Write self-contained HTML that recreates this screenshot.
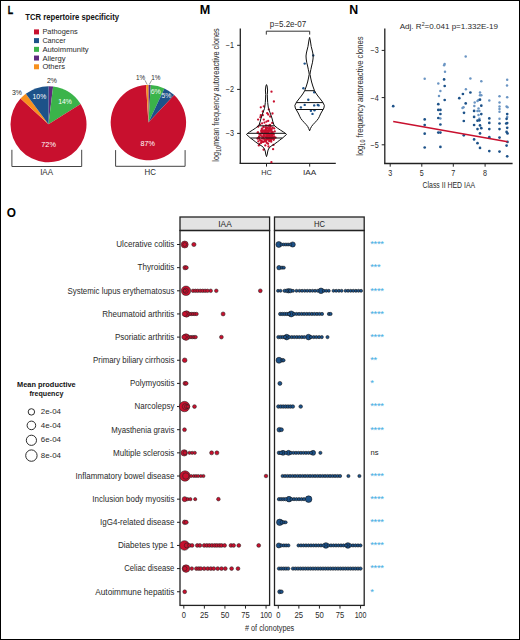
<!DOCTYPE html>
<html><head><meta charset="utf-8"><style>
html,body{margin:0;padding:0;background:#fff;}
body{width:520px;height:640px;overflow:hidden;}
.frame{position:absolute;left:0;top:0;width:518px;height:638px;border:1px solid #000;}
svg{position:absolute;left:0;top:0;}
text{font-family:"Liberation Sans",sans-serif;}
</style></head><body>
<div class="frame"></div>
<svg width="520" height="640" viewBox="0 0 520 640" font-family="Liberation Sans, sans-serif">
<text x="7.70" y="13.60" font-size="11.8" text-anchor="start" fill="#000" font-weight="bold" textLength="5.4" lengthAdjust="spacingAndGlyphs" stroke="#000" stroke-width="0.35">L</text>
<text x="25.30" y="19.90" font-size="8.5" text-anchor="start" fill="#111" font-weight="bold" textLength="93.8" lengthAdjust="spacingAndGlyphs" >TCR repertoire specificity</text>
<rect x="34" y="29.40" width="5" height="5" fill="#c8102e"/>
<text x="42.40" y="34.40" font-size="7.6" text-anchor="start" fill="#2a2a2a" textLength="35.3" lengthAdjust="spacingAndGlyphs" >Pathogens</text>
<rect x="34" y="38.12" width="5" height="5" fill="#1d5289"/>
<text x="42.40" y="43.12" font-size="7.6" text-anchor="start" fill="#2a2a2a" textLength="23.2" lengthAdjust="spacingAndGlyphs" >Cancer</text>
<rect x="34" y="46.84" width="5" height="5" fill="#3bb44a"/>
<text x="42.40" y="51.84" font-size="7.6" text-anchor="start" fill="#2a2a2a" textLength="46.3" lengthAdjust="spacingAndGlyphs" >Autoimmunity</text>
<rect x="34" y="55.56" width="5" height="5" fill="#5e2a7e"/>
<text x="42.40" y="60.56" font-size="7.6" text-anchor="start" fill="#2a2a2a" textLength="23.2" lengthAdjust="spacingAndGlyphs" >Allergy</text>
<rect x="34" y="64.28" width="5" height="5" fill="#f7901e"/>
<text x="42.40" y="69.28" font-size="7.6" text-anchor="start" fill="#2a2a2a" textLength="22.7" lengthAdjust="spacingAndGlyphs" >Others</text>
<path d="M48.50,124.30 L48.50,86.30 A38,38 0 0 1 53.13,86.58 Z" fill="#5e2a7e"/>
<path d="M48.50,124.30 L53.13,86.58 A38,38 0 0 1 80.66,104.05 Z" fill="#3bb44a"/>
<path d="M48.50,124.30 L80.66,104.05 A38,38 0 1 1 20.53,98.58 Z" fill="#c8102e"/>
<path d="M48.50,124.30 L20.53,98.58 A38,38 0 0 1 25.79,93.83 Z" fill="#f7901e"/>
<path d="M48.50,124.30 L25.79,93.83 A38,38 0 0 1 48.50,86.30 Z" fill="#1d5289"/>
<path d="M148.40,122.60 L148.40,84.90 A37.7,37.7 0 0 1 150.77,84.97 Z" fill="#5e2a7e"/>
<path d="M148.40,122.60 L150.77,84.97 A37.7,37.7 0 0 1 164.45,88.49 Z" fill="#3bb44a"/>
<path d="M148.40,122.60 L164.45,88.49 A37.7,37.7 0 0 1 174.21,95.12 Z" fill="#1d5289"/>
<path d="M148.40,122.60 L174.21,95.12 A37.7,37.7 0 1 1 146.03,84.97 Z" fill="#c8102e"/>
<path d="M148.40,122.60 L146.03,84.97 A37.7,37.7 0 0 1 148.40,84.90 Z" fill="#f7901e"/>
<text x="51.90" y="83.30" font-size="8.0" text-anchor="middle" fill="#2a2a2a" textLength="10.0" lengthAdjust="spacingAndGlyphs" >2%</text>
<text x="16.90" y="95.30" font-size="8.0" text-anchor="middle" fill="#2a2a2a" textLength="10.0" lengthAdjust="spacingAndGlyphs" >3%</text>
<text x="39.40" y="98.80" font-size="8.0" text-anchor="middle" fill="#fff" textLength="13.6" lengthAdjust="spacingAndGlyphs" >10%</text>
<text x="65.10" y="103.50" font-size="8.0" text-anchor="middle" fill="#fff" textLength="13.6" lengthAdjust="spacingAndGlyphs" >14%</text>
<text x="48.60" y="146.50" font-size="8.0" text-anchor="middle" fill="#fff" textLength="14.6" lengthAdjust="spacingAndGlyphs" >72%</text>
<text x="140.50" y="79.60" font-size="8.0" text-anchor="middle" fill="#2a2a2a" textLength="9.2" lengthAdjust="spacingAndGlyphs" >1%</text>
<text x="155.90" y="79.60" font-size="8.0" text-anchor="middle" fill="#2a2a2a" textLength="9.2" lengthAdjust="spacingAndGlyphs" >1%</text>
<line x1="145.00" y1="80.30" x2="147.20" y2="84.60" stroke="#555" stroke-width="0.6"/>
<line x1="151.60" y1="80.30" x2="149.20" y2="84.60" stroke="#555" stroke-width="0.6"/>
<text x="155.80" y="93.60" font-size="8.0" text-anchor="middle" fill="#f4f4f4" textLength="10.2" lengthAdjust="spacingAndGlyphs" >6%</text>
<text x="166.50" y="97.90" font-size="8.0" text-anchor="middle" fill="#f0f0f0" textLength="9.8" lengthAdjust="spacingAndGlyphs" >5%</text>
<text x="147.60" y="146.00" font-size="8.0" text-anchor="middle" fill="#fff" textLength="14.4" lengthAdjust="spacingAndGlyphs" >87%</text>
<path d="M11.9,149.8 V166.5 H81.7 V149.8" fill="none" stroke="#444" stroke-width="1"/>
<path d="M115.6,150.1 V166.3 H185.1 V150.1" fill="none" stroke="#444" stroke-width="1"/>
<text x="46.60" y="175.20" font-size="8.2" text-anchor="middle" fill="#2a2a2a" textLength="12.9" lengthAdjust="spacingAndGlyphs" >IAA</text>
<text x="150.20" y="175.10" font-size="8.2" text-anchor="middle" fill="#2a2a2a" textLength="11.4" lengthAdjust="spacingAndGlyphs" >HC</text>
<text x="199.80" y="13.80" font-size="11.9" text-anchor="start" fill="#000" font-weight="bold" textLength="10.5" lengthAdjust="spacingAndGlyphs" >M</text>
<line x1="240.30" y1="28.60" x2="240.30" y2="163.40" stroke="#222" stroke-width="1.3"/>
<line x1="239.60" y1="163.40" x2="335.80" y2="163.40" stroke="#222" stroke-width="1.3"/>
<line x1="237.10" y1="45.30" x2="240.30" y2="45.30" stroke="#222" stroke-width="1"/>
<text x="234.00" y="48.20" font-size="8.4" text-anchor="end" fill="#2a2a2a" textLength="8.2" lengthAdjust="spacingAndGlyphs" >−1</text>
<line x1="237.10" y1="89.40" x2="240.30" y2="89.40" stroke="#222" stroke-width="1"/>
<text x="234.00" y="92.30" font-size="8.4" text-anchor="end" fill="#2a2a2a" textLength="8.2" lengthAdjust="spacingAndGlyphs" >−2</text>
<line x1="237.10" y1="133.40" x2="240.30" y2="133.40" stroke="#222" stroke-width="1"/>
<text x="234.00" y="136.30" font-size="8.4" text-anchor="end" fill="#2a2a2a" textLength="8.2" lengthAdjust="spacingAndGlyphs" >−3</text>
<line x1="266.50" y1="163.40" x2="266.50" y2="166.60" stroke="#222" stroke-width="1"/>
<text x="266.50" y="175.20" font-size="8.1" text-anchor="middle" fill="#2a2a2a" textLength="10.6" lengthAdjust="spacingAndGlyphs" >HC</text>
<line x1="309.70" y1="163.40" x2="309.70" y2="166.60" stroke="#222" stroke-width="1"/>
<text x="309.70" y="175.20" font-size="8.1" text-anchor="middle" fill="#2a2a2a" textLength="13.3" lengthAdjust="spacingAndGlyphs" >IAA</text>
<text transform="translate(219.4,161.7) rotate(-90)" font-size="8.8" fill="#2a2a2a" textLength="133.5" lengthAdjust="spacingAndGlyphs">log<tspan font-size="6.3" dy="1.9">10</tspan><tspan dy="-1.9">mean frequency autoreactive clones</tspan></text>
<path d="M266.3,34.6 V31.2 H309.7 V34.6" fill="none" stroke="#333" stroke-width="1"/>
<text x="288.00" y="26.80" font-size="8.8" text-anchor="middle" fill="#2a2a2a" textLength="36.3" lengthAdjust="spacingAndGlyphs" >p=5.2e-07</text>
<circle cx="268.95" cy="133.32" r="1.15" fill="#c8102e" stroke="none" stroke-width="0.5"/>
<circle cx="264.99" cy="133.46" r="1.15" fill="#c8102e" stroke="none" stroke-width="0.5"/>
<circle cx="265.48" cy="130.22" r="1.15" fill="#c8102e" stroke="none" stroke-width="0.5"/>
<circle cx="268.54" cy="139.61" r="1.15" fill="#c8102e" stroke="none" stroke-width="0.5"/>
<circle cx="267.69" cy="139.27" r="1.15" fill="#c8102e" stroke="none" stroke-width="0.5"/>
<circle cx="267.39" cy="136.32" r="1.15" fill="#c8102e" stroke="none" stroke-width="0.5"/>
<circle cx="270.61" cy="126.84" r="1.15" fill="#c8102e" stroke="none" stroke-width="0.5"/>
<circle cx="268.89" cy="136.83" r="1.15" fill="#c8102e" stroke="none" stroke-width="0.5"/>
<circle cx="258.13" cy="126.72" r="1.15" fill="#c8102e" stroke="none" stroke-width="0.5"/>
<circle cx="264.25" cy="130.41" r="1.15" fill="#c8102e" stroke="none" stroke-width="0.5"/>
<circle cx="266.28" cy="135.91" r="1.15" fill="#c8102e" stroke="none" stroke-width="0.5"/>
<circle cx="263.42" cy="136.90" r="1.15" fill="#c8102e" stroke="none" stroke-width="0.5"/>
<circle cx="268.39" cy="135.92" r="1.15" fill="#c8102e" stroke="none" stroke-width="0.5"/>
<circle cx="274.74" cy="131.46" r="1.15" fill="#c8102e" stroke="none" stroke-width="0.5"/>
<circle cx="272.25" cy="137.06" r="1.15" fill="#c8102e" stroke="none" stroke-width="0.5"/>
<circle cx="262.95" cy="131.65" r="1.15" fill="#c8102e" stroke="none" stroke-width="0.5"/>
<circle cx="265.99" cy="132.92" r="1.15" fill="#c8102e" stroke="none" stroke-width="0.5"/>
<circle cx="267.69" cy="137.41" r="1.15" fill="#c8102e" stroke="none" stroke-width="0.5"/>
<circle cx="261.91" cy="132.44" r="1.15" fill="#c8102e" stroke="none" stroke-width="0.5"/>
<circle cx="272.36" cy="132.11" r="1.15" fill="#c8102e" stroke="none" stroke-width="0.5"/>
<circle cx="267.67" cy="130.78" r="1.15" fill="#c8102e" stroke="none" stroke-width="0.5"/>
<circle cx="259.35" cy="136.46" r="1.15" fill="#c8102e" stroke="none" stroke-width="0.5"/>
<circle cx="272.77" cy="134.72" r="1.15" fill="#c8102e" stroke="none" stroke-width="0.5"/>
<circle cx="265.99" cy="133.02" r="1.15" fill="#c8102e" stroke="none" stroke-width="0.5"/>
<circle cx="268.89" cy="130.74" r="1.15" fill="#c8102e" stroke="none" stroke-width="0.5"/>
<circle cx="259.47" cy="134.21" r="1.15" fill="#c8102e" stroke="none" stroke-width="0.5"/>
<circle cx="269.71" cy="138.31" r="1.15" fill="#c8102e" stroke="none" stroke-width="0.5"/>
<circle cx="273.41" cy="138.85" r="1.15" fill="#c8102e" stroke="none" stroke-width="0.5"/>
<circle cx="267.07" cy="136.17" r="1.15" fill="#c8102e" stroke="none" stroke-width="0.5"/>
<circle cx="269.45" cy="128.52" r="1.15" fill="#c8102e" stroke="none" stroke-width="0.5"/>
<circle cx="264.33" cy="131.69" r="1.15" fill="#c8102e" stroke="none" stroke-width="0.5"/>
<circle cx="261.86" cy="128.68" r="1.15" fill="#c8102e" stroke="none" stroke-width="0.5"/>
<circle cx="272.69" cy="132.06" r="1.15" fill="#c8102e" stroke="none" stroke-width="0.5"/>
<circle cx="267.65" cy="127.79" r="1.15" fill="#c8102e" stroke="none" stroke-width="0.5"/>
<circle cx="269.28" cy="141.14" r="1.15" fill="#c8102e" stroke="none" stroke-width="0.5"/>
<circle cx="268.22" cy="125.76" r="1.15" fill="#c8102e" stroke="none" stroke-width="0.5"/>
<circle cx="261.13" cy="131.11" r="1.15" fill="#c8102e" stroke="none" stroke-width="0.5"/>
<circle cx="271.79" cy="139.00" r="1.15" fill="#c8102e" stroke="none" stroke-width="0.5"/>
<circle cx="267.68" cy="135.22" r="1.15" fill="#c8102e" stroke="none" stroke-width="0.5"/>
<circle cx="274.15" cy="136.50" r="1.15" fill="#c8102e" stroke="none" stroke-width="0.5"/>
<circle cx="268.99" cy="137.35" r="1.15" fill="#c8102e" stroke="none" stroke-width="0.5"/>
<circle cx="258.97" cy="137.02" r="1.15" fill="#c8102e" stroke="none" stroke-width="0.5"/>
<circle cx="271.08" cy="140.40" r="1.15" fill="#c8102e" stroke="none" stroke-width="0.5"/>
<circle cx="263.46" cy="136.94" r="1.15" fill="#c8102e" stroke="none" stroke-width="0.5"/>
<circle cx="257.81" cy="138.37" r="1.15" fill="#c8102e" stroke="none" stroke-width="0.5"/>
<circle cx="271.39" cy="133.65" r="1.15" fill="#c8102e" stroke="none" stroke-width="0.5"/>
<circle cx="274.23" cy="128.47" r="1.15" fill="#c8102e" stroke="none" stroke-width="0.5"/>
<circle cx="265.78" cy="137.04" r="1.15" fill="#c8102e" stroke="none" stroke-width="0.5"/>
<circle cx="269.62" cy="135.99" r="1.15" fill="#c8102e" stroke="none" stroke-width="0.5"/>
<circle cx="272.00" cy="135.05" r="1.15" fill="#c8102e" stroke="none" stroke-width="0.5"/>
<circle cx="264.51" cy="131.46" r="1.15" fill="#c8102e" stroke="none" stroke-width="0.5"/>
<circle cx="266.63" cy="139.29" r="1.15" fill="#c8102e" stroke="none" stroke-width="0.5"/>
<circle cx="271.04" cy="130.45" r="1.15" fill="#c8102e" stroke="none" stroke-width="0.5"/>
<circle cx="264.36" cy="141.24" r="1.15" fill="#c8102e" stroke="none" stroke-width="0.5"/>
<circle cx="265.85" cy="128.15" r="1.15" fill="#c8102e" stroke="none" stroke-width="0.5"/>
<circle cx="265.07" cy="133.81" r="1.15" fill="#c8102e" stroke="none" stroke-width="0.5"/>
<circle cx="261.57" cy="140.96" r="1.15" fill="#c8102e" stroke="none" stroke-width="0.5"/>
<circle cx="260.41" cy="140.30" r="1.15" fill="#c8102e" stroke="none" stroke-width="0.5"/>
<circle cx="269.53" cy="130.88" r="1.15" fill="#c8102e" stroke="none" stroke-width="0.5"/>
<circle cx="270.62" cy="139.69" r="1.15" fill="#c8102e" stroke="none" stroke-width="0.5"/>
<circle cx="267.18" cy="136.09" r="1.15" fill="#c8102e" stroke="none" stroke-width="0.5"/>
<circle cx="269.26" cy="135.20" r="1.15" fill="#c8102e" stroke="none" stroke-width="0.5"/>
<circle cx="267.83" cy="133.69" r="1.15" fill="#c8102e" stroke="none" stroke-width="0.5"/>
<circle cx="266.50" cy="137.13" r="1.15" fill="#c8102e" stroke="none" stroke-width="0.5"/>
<circle cx="269.22" cy="138.01" r="1.15" fill="#c8102e" stroke="none" stroke-width="0.5"/>
<circle cx="268.06" cy="143.75" r="1.15" fill="#c8102e" stroke="none" stroke-width="0.5"/>
<circle cx="264.71" cy="132.53" r="1.15" fill="#c8102e" stroke="none" stroke-width="0.5"/>
<circle cx="270.93" cy="134.44" r="1.15" fill="#c8102e" stroke="none" stroke-width="0.5"/>
<circle cx="268.35" cy="132.95" r="1.15" fill="#c8102e" stroke="none" stroke-width="0.5"/>
<circle cx="261.11" cy="142.95" r="1.15" fill="#c8102e" stroke="none" stroke-width="0.5"/>
<circle cx="268.41" cy="135.62" r="1.15" fill="#c8102e" stroke="none" stroke-width="0.5"/>
<circle cx="264.43" cy="135.60" r="1.15" fill="#c8102e" stroke="none" stroke-width="0.5"/>
<circle cx="267.85" cy="137.51" r="1.15" fill="#c8102e" stroke="none" stroke-width="0.5"/>
<circle cx="268.20" cy="132.10" r="1.15" fill="#c8102e" stroke="none" stroke-width="0.5"/>
<circle cx="266.02" cy="131.95" r="1.15" fill="#c8102e" stroke="none" stroke-width="0.5"/>
<circle cx="266.20" cy="133.46" r="1.15" fill="#c8102e" stroke="none" stroke-width="0.5"/>
<circle cx="271.34" cy="132.26" r="1.15" fill="#c8102e" stroke="none" stroke-width="0.5"/>
<circle cx="266.18" cy="129.12" r="1.15" fill="#c8102e" stroke="none" stroke-width="0.5"/>
<circle cx="270.61" cy="138.89" r="1.15" fill="#c8102e" stroke="none" stroke-width="0.5"/>
<circle cx="258.33" cy="141.36" r="1.15" fill="#c8102e" stroke="none" stroke-width="0.5"/>
<circle cx="264.86" cy="132.87" r="1.15" fill="#c8102e" stroke="none" stroke-width="0.5"/>
<circle cx="271.74" cy="137.37" r="1.15" fill="#c8102e" stroke="none" stroke-width="0.5"/>
<circle cx="259.55" cy="139.51" r="1.15" fill="#c8102e" stroke="none" stroke-width="0.5"/>
<circle cx="259.34" cy="137.64" r="1.15" fill="#c8102e" stroke="none" stroke-width="0.5"/>
<circle cx="272.23" cy="135.31" r="1.15" fill="#c8102e" stroke="none" stroke-width="0.5"/>
<circle cx="267.42" cy="133.81" r="1.15" fill="#c8102e" stroke="none" stroke-width="0.5"/>
<circle cx="267.18" cy="138.17" r="1.15" fill="#c8102e" stroke="none" stroke-width="0.5"/>
<circle cx="273.86" cy="134.09" r="1.15" fill="#c8102e" stroke="none" stroke-width="0.5"/>
<circle cx="265.09" cy="139.32" r="1.15" fill="#c8102e" stroke="none" stroke-width="0.5"/>
<circle cx="270.89" cy="129.22" r="1.15" fill="#c8102e" stroke="none" stroke-width="0.5"/>
<circle cx="267.14" cy="133.28" r="1.15" fill="#c8102e" stroke="none" stroke-width="0.5"/>
<circle cx="267.57" cy="137.74" r="1.15" fill="#c8102e" stroke="none" stroke-width="0.5"/>
<circle cx="259.17" cy="137.44" r="1.15" fill="#c8102e" stroke="none" stroke-width="0.5"/>
<circle cx="269.45" cy="127.56" r="1.15" fill="#c8102e" stroke="none" stroke-width="0.5"/>
<circle cx="261.57" cy="130.07" r="1.15" fill="#c8102e" stroke="none" stroke-width="0.5"/>
<circle cx="272.58" cy="127.74" r="1.15" fill="#c8102e" stroke="none" stroke-width="0.5"/>
<circle cx="273.57" cy="137.93" r="1.15" fill="#c8102e" stroke="none" stroke-width="0.5"/>
<circle cx="266.50" cy="130.19" r="1.15" fill="#c8102e" stroke="none" stroke-width="0.5"/>
<circle cx="270.18" cy="129.25" r="1.15" fill="#c8102e" stroke="none" stroke-width="0.5"/>
<circle cx="262.23" cy="141.81" r="1.15" fill="#c8102e" stroke="none" stroke-width="0.5"/>
<circle cx="271.24" cy="141.68" r="1.15" fill="#c8102e" stroke="none" stroke-width="0.5"/>
<circle cx="273.25" cy="133.68" r="1.15" fill="#c8102e" stroke="none" stroke-width="0.5"/>
<circle cx="263.61" cy="134.06" r="1.15" fill="#c8102e" stroke="none" stroke-width="0.5"/>
<circle cx="268.47" cy="136.34" r="1.15" fill="#c8102e" stroke="none" stroke-width="0.5"/>
<circle cx="261.60" cy="141.39" r="1.15" fill="#c8102e" stroke="none" stroke-width="0.5"/>
<circle cx="273.64" cy="139.73" r="1.15" fill="#c8102e" stroke="none" stroke-width="0.5"/>
<circle cx="265.63" cy="141.18" r="1.15" fill="#c8102e" stroke="none" stroke-width="0.5"/>
<circle cx="271.39" cy="131.08" r="1.15" fill="#c8102e" stroke="none" stroke-width="0.5"/>
<circle cx="267.10" cy="135.03" r="1.15" fill="#c8102e" stroke="none" stroke-width="0.5"/>
<circle cx="265.24" cy="141.05" r="1.15" fill="#c8102e" stroke="none" stroke-width="0.5"/>
<circle cx="257.60" cy="132.72" r="1.15" fill="#c8102e" stroke="none" stroke-width="0.5"/>
<circle cx="268.02" cy="138.27" r="1.15" fill="#c8102e" stroke="none" stroke-width="0.5"/>
<circle cx="266.45" cy="131.69" r="1.15" fill="#c8102e" stroke="none" stroke-width="0.5"/>
<circle cx="266.88" cy="138.33" r="1.15" fill="#c8102e" stroke="none" stroke-width="0.5"/>
<circle cx="266.21" cy="140.60" r="1.15" fill="#c8102e" stroke="none" stroke-width="0.5"/>
<circle cx="273.66" cy="139.29" r="1.15" fill="#c8102e" stroke="none" stroke-width="0.5"/>
<circle cx="263.28" cy="141.91" r="1.15" fill="#c8102e" stroke="none" stroke-width="0.5"/>
<circle cx="257.50" cy="138.55" r="1.15" fill="#c8102e" stroke="none" stroke-width="0.5"/>
<circle cx="271.63" cy="129.52" r="1.15" fill="#c8102e" stroke="none" stroke-width="0.5"/>
<circle cx="266.44" cy="128.83" r="1.15" fill="#c8102e" stroke="none" stroke-width="0.5"/>
<circle cx="266.36" cy="133.62" r="1.15" fill="#c8102e" stroke="none" stroke-width="0.5"/>
<circle cx="267.62" cy="131.78" r="1.15" fill="#c8102e" stroke="none" stroke-width="0.5"/>
<circle cx="266.71" cy="142.74" r="1.15" fill="#c8102e" stroke="none" stroke-width="0.5"/>
<circle cx="271.30" cy="136.94" r="1.15" fill="#c8102e" stroke="none" stroke-width="0.5"/>
<circle cx="260.45" cy="133.59" r="1.15" fill="#c8102e" stroke="none" stroke-width="0.5"/>
<circle cx="271.65" cy="131.95" r="1.15" fill="#c8102e" stroke="none" stroke-width="0.5"/>
<circle cx="263.63" cy="126.93" r="1.15" fill="#c8102e" stroke="none" stroke-width="0.5"/>
<circle cx="270.31" cy="139.13" r="1.15" fill="#c8102e" stroke="none" stroke-width="0.5"/>
<circle cx="270.37" cy="134.54" r="1.15" fill="#c8102e" stroke="none" stroke-width="0.5"/>
<circle cx="260.84" cy="135.26" r="1.15" fill="#c8102e" stroke="none" stroke-width="0.5"/>
<circle cx="263.43" cy="127.31" r="1.15" fill="#c8102e" stroke="none" stroke-width="0.5"/>
<circle cx="263.79" cy="138.74" r="1.15" fill="#c8102e" stroke="none" stroke-width="0.5"/>
<circle cx="262.80" cy="130.35" r="1.15" fill="#c8102e" stroke="none" stroke-width="0.5"/>
<circle cx="265.94" cy="127.45" r="1.15" fill="#c8102e" stroke="none" stroke-width="0.5"/>
<circle cx="268.25" cy="129.07" r="1.15" fill="#c8102e" stroke="none" stroke-width="0.5"/>
<circle cx="263.42" cy="136.01" r="1.15" fill="#c8102e" stroke="none" stroke-width="0.5"/>
<circle cx="269.98" cy="125.57" r="1.15" fill="#c8102e" stroke="none" stroke-width="0.5"/>
<circle cx="262.30" cy="133.23" r="1.15" fill="#c8102e" stroke="none" stroke-width="0.5"/>
<circle cx="264.30" cy="135.84" r="1.15" fill="#c8102e" stroke="none" stroke-width="0.5"/>
<circle cx="270.09" cy="138.09" r="1.15" fill="#c8102e" stroke="none" stroke-width="0.5"/>
<circle cx="268.07" cy="137.56" r="1.15" fill="#c8102e" stroke="none" stroke-width="0.5"/>
<circle cx="269.67" cy="140.64" r="1.15" fill="#c8102e" stroke="none" stroke-width="0.5"/>
<circle cx="270.80" cy="136.58" r="1.15" fill="#c8102e" stroke="none" stroke-width="0.5"/>
<circle cx="265.07" cy="140.52" r="1.15" fill="#c8102e" stroke="none" stroke-width="0.5"/>
<circle cx="258.06" cy="132.34" r="1.15" fill="#c8102e" stroke="none" stroke-width="0.5"/>
<circle cx="262.05" cy="136.66" r="1.15" fill="#c8102e" stroke="none" stroke-width="0.5"/>
<circle cx="275.55" cy="137.67" r="1.15" fill="#c8102e" stroke="none" stroke-width="0.5"/>
<circle cx="269.19" cy="133.95" r="1.15" fill="#c8102e" stroke="none" stroke-width="0.5"/>
<circle cx="262.15" cy="138.65" r="1.15" fill="#c8102e" stroke="none" stroke-width="0.5"/>
<circle cx="267.91" cy="134.09" r="1.15" fill="#c8102e" stroke="none" stroke-width="0.5"/>
<circle cx="271.50" cy="91.70" r="1.15" fill="#c8102e" stroke="none" stroke-width="0.5"/>
<circle cx="273.90" cy="101.50" r="1.15" fill="#c8102e" stroke="none" stroke-width="0.5"/>
<circle cx="260.80" cy="107.30" r="1.15" fill="#c8102e" stroke="none" stroke-width="0.5"/>
<circle cx="263.80" cy="106.30" r="1.15" fill="#c8102e" stroke="none" stroke-width="0.5"/>
<circle cx="268.80" cy="109.30" r="1.15" fill="#c8102e" stroke="none" stroke-width="0.5"/>
<circle cx="262.80" cy="111.50" r="1.15" fill="#c8102e" stroke="none" stroke-width="0.5"/>
<circle cx="272.50" cy="113.50" r="1.15" fill="#c8102e" stroke="none" stroke-width="0.5"/>
<circle cx="267.20" cy="113.20" r="1.15" fill="#c8102e" stroke="none" stroke-width="0.5"/>
<circle cx="268.20" cy="114.50" r="1.15" fill="#c8102e" stroke="none" stroke-width="0.5"/>
<circle cx="270.20" cy="116.50" r="1.15" fill="#c8102e" stroke="none" stroke-width="0.5"/>
<circle cx="260.80" cy="115.20" r="1.15" fill="#c8102e" stroke="none" stroke-width="0.5"/>
<circle cx="260.40" cy="117.20" r="1.15" fill="#c8102e" stroke="none" stroke-width="0.5"/>
<circle cx="262.80" cy="115.20" r="1.15" fill="#c8102e" stroke="none" stroke-width="0.5"/>
<circle cx="258.10" cy="119.60" r="1.15" fill="#c8102e" stroke="none" stroke-width="0.5"/>
<circle cx="263.80" cy="119.60" r="1.15" fill="#c8102e" stroke="none" stroke-width="0.5"/>
<circle cx="266.50" cy="121.60" r="1.15" fill="#c8102e" stroke="none" stroke-width="0.5"/>
<circle cx="268.20" cy="120.90" r="1.15" fill="#c8102e" stroke="none" stroke-width="0.5"/>
<circle cx="262.10" cy="123.30" r="1.15" fill="#c8102e" stroke="none" stroke-width="0.5"/>
<circle cx="264.50" cy="122.60" r="1.15" fill="#c8102e" stroke="none" stroke-width="0.5"/>
<circle cx="272.20" cy="122.90" r="1.15" fill="#c8102e" stroke="none" stroke-width="0.5"/>
<circle cx="260.10" cy="124.60" r="1.15" fill="#c8102e" stroke="none" stroke-width="0.5"/>
<circle cx="258.80" cy="145.40" r="1.15" fill="#c8102e" stroke="none" stroke-width="0.5"/>
<circle cx="265.30" cy="145.40" r="1.15" fill="#c8102e" stroke="none" stroke-width="0.5"/>
<circle cx="273.50" cy="144.90" r="1.15" fill="#c8102e" stroke="none" stroke-width="0.5"/>
<circle cx="263.60" cy="149.70" r="1.15" fill="#c8102e" stroke="none" stroke-width="0.5"/>
<circle cx="273.10" cy="149.20" r="1.15" fill="#c8102e" stroke="none" stroke-width="0.5"/>
<circle cx="271.40" cy="162.20" r="1.15" fill="#c8102e" stroke="none" stroke-width="0.5"/>
<circle cx="259.50" cy="143.80" r="1.15" fill="#c8102e" stroke="none" stroke-width="0.5"/>
<circle cx="268.50" cy="146.50" r="1.15" fill="#c8102e" stroke="none" stroke-width="0.5"/>
<circle cx="266.00" cy="125.50" r="1.15" fill="#c8102e" stroke="none" stroke-width="0.5"/>
<circle cx="270.00" cy="124.80" r="1.15" fill="#c8102e" stroke="none" stroke-width="0.5"/>
<path d="M266.50,84.60 L267.10,86.00 L267.60,90.00 L267.30,94.50 L267.40,98.00 L267.70,102.60 L268.10,106.00 L268.50,108.50 L269.80,112.00 L271.00,115.20 L272.20,119.00 L272.90,121.90 L274.10,125.30 L277.30,128.00 L280.30,130.00 L283.50,132.00 L286.50,134.30 L284.90,136.00 L282.50,138.00 L279.90,140.00 L277.30,142.00 L274.50,144.00 L271.00,146.20 L269.10,148.00 L268.10,150.00 L267.60,152.00 L267.30,154.00 L266.50,156.60 L266.50,156.60 L265.70,154.00 L265.40,152.00 L264.90,150.00 L263.90,148.00 L262.00,146.20 L258.50,144.00 L255.70,142.00 L253.10,140.00 L250.50,138.00 L248.10,136.00 L246.50,134.30 L249.50,132.00 L252.70,130.00 L255.70,128.00 L258.90,125.30 L260.10,121.90 L260.80,119.00 L262.00,115.20 L263.20,112.00 L264.50,108.50 L264.90,106.00 L265.30,102.60 L265.60,98.00 L265.70,94.50 L265.40,90.00 L265.90,86.00 L266.50,84.60 Z" fill="none" stroke="#111" stroke-width="1.0" stroke-linejoin="round"/>
<line x1="258.50" y1="125.80" x2="274.50" y2="125.80" stroke="#111" stroke-width="1.0"/>
<line x1="247.70" y1="133.30" x2="285.30" y2="133.30" stroke="#111" stroke-width="1.0"/>
<line x1="250.50" y1="138.00" x2="282.50" y2="138.00" stroke="#111" stroke-width="1.0"/>
<circle cx="313.20" cy="55.40" r="1.20" fill="#1d5289" stroke="none" stroke-width="0.5"/>
<circle cx="304.70" cy="63.60" r="1.20" fill="#1d5289" stroke="none" stroke-width="0.5"/>
<circle cx="303.40" cy="88.20" r="1.20" fill="#1d5289" stroke="none" stroke-width="0.5"/>
<circle cx="314.20" cy="92.30" r="1.20" fill="#1d5289" stroke="none" stroke-width="0.5"/>
<circle cx="308.30" cy="99.70" r="1.20" fill="#1d5289" stroke="none" stroke-width="0.5"/>
<circle cx="304.70" cy="104.90" r="1.20" fill="#1d5289" stroke="none" stroke-width="0.5"/>
<circle cx="300.90" cy="107.40" r="1.20" fill="#1d5289" stroke="none" stroke-width="0.5"/>
<circle cx="314.20" cy="105.40" r="1.20" fill="#1d5289" stroke="none" stroke-width="0.5"/>
<circle cx="317.80" cy="104.90" r="1.20" fill="#1d5289" stroke="none" stroke-width="0.5"/>
<circle cx="318.60" cy="105.40" r="1.20" fill="#1d5289" stroke="none" stroke-width="0.5"/>
<circle cx="310.90" cy="110.70" r="1.20" fill="#1d5289" stroke="none" stroke-width="0.5"/>
<circle cx="314.50" cy="110.30" r="1.20" fill="#1d5289" stroke="none" stroke-width="0.5"/>
<circle cx="312.50" cy="113.90" r="1.20" fill="#1d5289" stroke="none" stroke-width="0.5"/>
<path d="M309.60,37.40 L310.20,40.00 L310.70,43.00 L311.20,46.40 L312.10,50.00 L312.80,53.00 L313.20,56.00 L313.00,59.00 L312.40,62.80 L311.60,66.00 L310.90,69.30 L310.30,72.00 L310.00,74.30 L310.70,78.00 L311.60,82.00 L312.80,86.00 L314.50,90.70 L315.80,93.00 L317.90,96.00 L320.30,99.00 L322.60,102.00 L324.35,105.40 L323.90,108.00 L322.80,110.00 L321.60,112.00 L320.50,114.00 L319.50,116.30 L318.40,118.50 L316.80,120.50 L315.00,122.50 L313.10,124.50 L311.50,126.50 L310.50,128.50 L309.60,130.80 L309.60,130.80 L308.70,128.50 L307.70,126.50 L306.10,124.50 L304.20,122.50 L302.40,120.50 L300.80,118.50 L299.70,116.30 L298.70,114.00 L297.60,112.00 L296.40,110.00 L295.30,108.00 L294.85,105.40 L296.60,102.00 L298.90,99.00 L301.30,96.00 L303.40,93.00 L304.70,90.70 L306.40,86.00 L307.60,82.00 L308.50,78.00 L309.20,74.30 L308.90,72.00 L308.30,69.30 L307.60,66.00 L306.80,62.80 L306.20,59.00 L306.00,56.00 L306.40,53.00 L307.10,50.00 L308.00,46.40 L308.50,43.00 L309.00,40.00 L309.60,37.40 Z" fill="none" stroke="#111" stroke-width="1.0" stroke-linejoin="round"/>
<line x1="304.70" y1="90.70" x2="314.50" y2="90.70" stroke="#111" stroke-width="1.0"/>
<line x1="296.30" y1="102.60" x2="322.90" y2="102.60" stroke="#111" stroke-width="1.0"/>
<line x1="296.10" y1="109.50" x2="323.10" y2="109.50" stroke="#111" stroke-width="1.0"/>
<text x="349.30" y="13.80" font-size="12.0" text-anchor="start" fill="#000" font-weight="bold" textLength="8.9" lengthAdjust="spacingAndGlyphs" >N</text>
<text x="399.7" y="29.4" font-size="8" fill="#2a2a2a" textLength="98.3" lengthAdjust="spacingAndGlyphs">Adj. R<tspan font-size="5.2" dy="-3">2</tspan><tspan dy="3">=0.041 p=1.332E-19</tspan></text>
<line x1="384.80" y1="28.50" x2="384.80" y2="163.50" stroke="#222" stroke-width="1.3"/>
<line x1="384.10" y1="163.50" x2="512.60" y2="163.50" stroke="#222" stroke-width="1.3"/>
<line x1="381.70" y1="50.40" x2="384.80" y2="50.40" stroke="#222" stroke-width="1"/>
<text x="378.80" y="53.30" font-size="8.4" text-anchor="end" fill="#2a2a2a" textLength="8.2" lengthAdjust="spacingAndGlyphs" >−3</text>
<line x1="381.70" y1="97.60" x2="384.80" y2="97.60" stroke="#222" stroke-width="1"/>
<text x="378.80" y="100.50" font-size="8.4" text-anchor="end" fill="#2a2a2a" textLength="8.2" lengthAdjust="spacingAndGlyphs" >−4</text>
<line x1="381.70" y1="144.80" x2="384.80" y2="144.80" stroke="#222" stroke-width="1"/>
<text x="378.80" y="147.70" font-size="8.4" text-anchor="end" fill="#2a2a2a" textLength="8.2" lengthAdjust="spacingAndGlyphs" >−5</text>
<line x1="390.20" y1="163.50" x2="390.20" y2="166.70" stroke="#222" stroke-width="1"/>
<text x="390.20" y="175.50" font-size="8.2" text-anchor="middle" fill="#2a2a2a" textLength="4.0" lengthAdjust="spacingAndGlyphs" >3</text>
<line x1="421.80" y1="163.50" x2="421.80" y2="166.70" stroke="#222" stroke-width="1"/>
<text x="421.80" y="175.50" font-size="8.2" text-anchor="middle" fill="#2a2a2a" textLength="4.0" lengthAdjust="spacingAndGlyphs" >5</text>
<line x1="453.30" y1="163.50" x2="453.30" y2="166.70" stroke="#222" stroke-width="1"/>
<text x="453.30" y="175.50" font-size="8.2" text-anchor="middle" fill="#2a2a2a" textLength="4.0" lengthAdjust="spacingAndGlyphs" >7</text>
<line x1="485.10" y1="163.50" x2="485.10" y2="166.70" stroke="#222" stroke-width="1"/>
<text x="485.10" y="175.50" font-size="8.2" text-anchor="middle" fill="#2a2a2a" textLength="4.0" lengthAdjust="spacingAndGlyphs" >8</text>
<text x="448.85" y="187.60" font-size="9.0" text-anchor="middle" fill="#2a2a2a" textLength="52.6" lengthAdjust="spacingAndGlyphs" >Class II HED IAA</text>
<text transform="translate(362.6,155.8) rotate(-90)" font-size="8.8" fill="#2a2a2a" textLength="119.4" lengthAdjust="spacingAndGlyphs">log<tspan font-size="6.3" dy="1.9">10</tspan><tspan dy="-1.9"> frequency autoreactive clones</tspan></text>
<circle cx="424.70" cy="78.80" r="1.25" fill="#6b95c3" stroke="none" stroke-width="0.5"/>
<circle cx="438.30" cy="83.50" r="1.25" fill="#6b95c3" stroke="none" stroke-width="0.5"/>
<circle cx="440.40" cy="91.00" r="1.25" fill="#6b95c3" stroke="none" stroke-width="0.5"/>
<circle cx="439.00" cy="96.00" r="1.25" fill="#6b95c3" stroke="none" stroke-width="0.5"/>
<circle cx="440.40" cy="118.40" r="1.25" fill="#6b95c3" stroke="none" stroke-width="0.5"/>
<circle cx="444.60" cy="64.10" r="1.25" fill="#6b95c3" stroke="none" stroke-width="0.5"/>
<circle cx="444.10" cy="65.30" r="1.25" fill="#6b95c3" stroke="none" stroke-width="0.5"/>
<circle cx="445.00" cy="71.70" r="1.25" fill="#6b95c3" stroke="none" stroke-width="0.5"/>
<circle cx="465.70" cy="56.50" r="1.25" fill="#6b95c3" stroke="none" stroke-width="0.5"/>
<circle cx="465.90" cy="89.20" r="1.25" fill="#6b95c3" stroke="none" stroke-width="0.5"/>
<circle cx="463.50" cy="107.20" r="1.25" fill="#6b95c3" stroke="none" stroke-width="0.5"/>
<circle cx="462.50" cy="107.90" r="1.25" fill="#6b95c3" stroke="none" stroke-width="0.5"/>
<circle cx="470.40" cy="78.50" r="1.25" fill="#6b95c3" stroke="none" stroke-width="0.5"/>
<circle cx="481.30" cy="81.30" r="1.25" fill="#6b95c3" stroke="none" stroke-width="0.5"/>
<circle cx="480.00" cy="92.50" r="1.25" fill="#6b95c3" stroke="none" stroke-width="0.5"/>
<circle cx="480.00" cy="95.30" r="1.25" fill="#6b95c3" stroke="none" stroke-width="0.5"/>
<circle cx="481.30" cy="95.30" r="1.25" fill="#6b95c3" stroke="none" stroke-width="0.5"/>
<circle cx="474.70" cy="102.50" r="1.25" fill="#6b95c3" stroke="none" stroke-width="0.5"/>
<circle cx="474.30" cy="106.00" r="1.25" fill="#6b95c3" stroke="none" stroke-width="0.5"/>
<circle cx="478.50" cy="100.00" r="1.25" fill="#6b95c3" stroke="none" stroke-width="0.5"/>
<circle cx="477.50" cy="101.00" r="1.25" fill="#6b95c3" stroke="none" stroke-width="0.5"/>
<circle cx="478.50" cy="108.50" r="1.25" fill="#6b95c3" stroke="none" stroke-width="0.5"/>
<circle cx="479.40" cy="111.00" r="1.25" fill="#6b95c3" stroke="none" stroke-width="0.5"/>
<circle cx="477.50" cy="111.00" r="1.25" fill="#6b95c3" stroke="none" stroke-width="0.5"/>
<circle cx="478.50" cy="115.00" r="1.25" fill="#6b95c3" stroke="none" stroke-width="0.5"/>
<circle cx="479.40" cy="118.80" r="1.25" fill="#6b95c3" stroke="none" stroke-width="0.5"/>
<circle cx="489.30" cy="100.40" r="1.25" fill="#6b95c3" stroke="none" stroke-width="0.5"/>
<circle cx="499.50" cy="96.30" r="1.25" fill="#6b95c3" stroke="none" stroke-width="0.5"/>
<circle cx="499.50" cy="102.50" r="1.25" fill="#6b95c3" stroke="none" stroke-width="0.5"/>
<circle cx="499.50" cy="106.60" r="1.25" fill="#6b95c3" stroke="none" stroke-width="0.5"/>
<circle cx="499.50" cy="109.00" r="1.25" fill="#6b95c3" stroke="none" stroke-width="0.5"/>
<circle cx="499.50" cy="111.70" r="1.25" fill="#6b95c3" stroke="none" stroke-width="0.5"/>
<circle cx="499.50" cy="118.80" r="1.25" fill="#6b95c3" stroke="none" stroke-width="0.5"/>
<circle cx="507.20" cy="79.80" r="1.25" fill="#6b95c3" stroke="none" stroke-width="0.5"/>
<circle cx="507.00" cy="85.60" r="1.25" fill="#6b95c3" stroke="none" stroke-width="0.5"/>
<circle cx="507.20" cy="97.20" r="1.25" fill="#6b95c3" stroke="none" stroke-width="0.5"/>
<circle cx="506.60" cy="106.60" r="1.25" fill="#6b95c3" stroke="none" stroke-width="0.5"/>
<circle cx="507.50" cy="107.20" r="1.25" fill="#6b95c3" stroke="none" stroke-width="0.5"/>
<circle cx="507.20" cy="117.00" r="1.25" fill="#6b95c3" stroke="none" stroke-width="0.5"/>
<circle cx="393.20" cy="106.20" r="1.35" fill="#1d5289" stroke="none" stroke-width="0.5"/>
<circle cx="424.70" cy="119.40" r="1.35" fill="#1d5289" stroke="none" stroke-width="0.5"/>
<circle cx="424.70" cy="125.10" r="1.35" fill="#1d5289" stroke="none" stroke-width="0.5"/>
<circle cx="424.70" cy="133.70" r="1.35" fill="#1d5289" stroke="none" stroke-width="0.5"/>
<circle cx="424.70" cy="147.50" r="1.35" fill="#1d5289" stroke="none" stroke-width="0.5"/>
<circle cx="438.30" cy="104.20" r="1.35" fill="#1d5289" stroke="none" stroke-width="0.5"/>
<circle cx="438.30" cy="109.90" r="1.35" fill="#1d5289" stroke="none" stroke-width="0.5"/>
<circle cx="440.40" cy="109.90" r="1.35" fill="#1d5289" stroke="none" stroke-width="0.5"/>
<circle cx="440.40" cy="114.00" r="1.35" fill="#1d5289" stroke="none" stroke-width="0.5"/>
<circle cx="438.30" cy="118.00" r="1.35" fill="#1d5289" stroke="none" stroke-width="0.5"/>
<circle cx="440.40" cy="124.50" r="1.35" fill="#1d5289" stroke="none" stroke-width="0.5"/>
<circle cx="438.30" cy="132.60" r="1.35" fill="#1d5289" stroke="none" stroke-width="0.5"/>
<circle cx="440.40" cy="132.60" r="1.35" fill="#1d5289" stroke="none" stroke-width="0.5"/>
<circle cx="440.40" cy="146.90" r="1.35" fill="#1d5289" stroke="none" stroke-width="0.5"/>
<circle cx="444.10" cy="79.40" r="1.35" fill="#1d5289" stroke="none" stroke-width="0.5"/>
<circle cx="444.70" cy="86.00" r="1.35" fill="#1d5289" stroke="none" stroke-width="0.5"/>
<circle cx="444.70" cy="100.00" r="1.35" fill="#1d5289" stroke="none" stroke-width="0.5"/>
<circle cx="462.90" cy="94.00" r="1.35" fill="#1d5289" stroke="none" stroke-width="0.5"/>
<circle cx="459.30" cy="98.20" r="1.35" fill="#1d5289" stroke="none" stroke-width="0.5"/>
<circle cx="465.70" cy="103.40" r="1.35" fill="#1d5289" stroke="none" stroke-width="0.5"/>
<circle cx="464.00" cy="112.80" r="1.35" fill="#1d5289" stroke="none" stroke-width="0.5"/>
<circle cx="463.80" cy="121.00" r="1.35" fill="#1d5289" stroke="none" stroke-width="0.5"/>
<circle cx="463.80" cy="135.30" r="1.35" fill="#1d5289" stroke="none" stroke-width="0.5"/>
<circle cx="470.40" cy="92.50" r="1.35" fill="#1d5289" stroke="none" stroke-width="0.5"/>
<circle cx="480.00" cy="99.70" r="1.35" fill="#1d5289" stroke="none" stroke-width="0.5"/>
<circle cx="481.30" cy="105.70" r="1.35" fill="#1d5289" stroke="none" stroke-width="0.5"/>
<circle cx="474.10" cy="110.90" r="1.35" fill="#1d5289" stroke="none" stroke-width="0.5"/>
<circle cx="474.10" cy="116.90" r="1.35" fill="#1d5289" stroke="none" stroke-width="0.5"/>
<circle cx="481.30" cy="114.10" r="1.35" fill="#1d5289" stroke="none" stroke-width="0.5"/>
<circle cx="477.50" cy="120.70" r="1.35" fill="#1d5289" stroke="none" stroke-width="0.5"/>
<circle cx="479.40" cy="120.30" r="1.35" fill="#1d5289" stroke="none" stroke-width="0.5"/>
<circle cx="474.10" cy="125.00" r="1.35" fill="#1d5289" stroke="none" stroke-width="0.5"/>
<circle cx="480.00" cy="125.40" r="1.35" fill="#1d5289" stroke="none" stroke-width="0.5"/>
<circle cx="481.30" cy="128.20" r="1.35" fill="#1d5289" stroke="none" stroke-width="0.5"/>
<circle cx="477.50" cy="129.10" r="1.35" fill="#1d5289" stroke="none" stroke-width="0.5"/>
<circle cx="480.00" cy="133.40" r="1.35" fill="#1d5289" stroke="none" stroke-width="0.5"/>
<circle cx="474.10" cy="139.40" r="1.35" fill="#1d5289" stroke="none" stroke-width="0.5"/>
<circle cx="477.50" cy="143.20" r="1.35" fill="#1d5289" stroke="none" stroke-width="0.5"/>
<circle cx="480.00" cy="147.90" r="1.35" fill="#1d5289" stroke="none" stroke-width="0.5"/>
<circle cx="489.30" cy="118.40" r="1.35" fill="#1d5289" stroke="none" stroke-width="0.5"/>
<circle cx="489.30" cy="122.90" r="1.35" fill="#1d5289" stroke="none" stroke-width="0.5"/>
<circle cx="489.30" cy="129.10" r="1.35" fill="#1d5289" stroke="none" stroke-width="0.5"/>
<circle cx="489.30" cy="137.20" r="1.35" fill="#1d5289" stroke="none" stroke-width="0.5"/>
<circle cx="489.30" cy="151.10" r="1.35" fill="#1d5289" stroke="none" stroke-width="0.5"/>
<circle cx="499.50" cy="123.50" r="1.35" fill="#1d5289" stroke="none" stroke-width="0.5"/>
<circle cx="499.50" cy="129.10" r="1.35" fill="#1d5289" stroke="none" stroke-width="0.5"/>
<circle cx="499.50" cy="137.60" r="1.35" fill="#1d5289" stroke="none" stroke-width="0.5"/>
<circle cx="499.50" cy="151.60" r="1.35" fill="#1d5289" stroke="none" stroke-width="0.5"/>
<circle cx="507.20" cy="114.10" r="1.35" fill="#1d5289" stroke="none" stroke-width="0.5"/>
<circle cx="506.60" cy="118.80" r="1.35" fill="#1d5289" stroke="none" stroke-width="0.5"/>
<circle cx="507.20" cy="123.10" r="1.35" fill="#1d5289" stroke="none" stroke-width="0.5"/>
<circle cx="506.20" cy="123.50" r="1.35" fill="#1d5289" stroke="none" stroke-width="0.5"/>
<circle cx="507.20" cy="127.80" r="1.35" fill="#1d5289" stroke="none" stroke-width="0.5"/>
<circle cx="506.60" cy="131.90" r="1.35" fill="#1d5289" stroke="none" stroke-width="0.5"/>
<circle cx="507.50" cy="133.40" r="1.35" fill="#1d5289" stroke="none" stroke-width="0.5"/>
<circle cx="507.50" cy="141.90" r="1.35" fill="#1d5289" stroke="none" stroke-width="0.5"/>
<circle cx="506.60" cy="145.60" r="1.35" fill="#1d5289" stroke="none" stroke-width="0.5"/>
<circle cx="507.20" cy="156.30" r="1.35" fill="#1d5289" stroke="none" stroke-width="0.5"/>
<line x1="393.20" y1="121.50" x2="507.50" y2="141.70" stroke="#c8102e" stroke-width="1.4"/>
<text x="6.80" y="216.80" font-size="11.9" text-anchor="start" fill="#000" font-weight="bold" textLength="9.2" lengthAdjust="spacingAndGlyphs" >O</text>
<text x="46.40" y="387.40" font-size="7.6" text-anchor="middle" fill="#111" font-weight="bold" textLength="58.6" lengthAdjust="spacingAndGlyphs" >Mean productive</text>
<text x="46.40" y="396.20" font-size="7.6" text-anchor="middle" fill="#111" font-weight="bold" textLength="33.9" lengthAdjust="spacingAndGlyphs" >frequency</text>
<circle cx="31.40" cy="411.90" r="3.20" fill="#fff" stroke="#222" stroke-width="0.95"/>
<text x="40.80" y="414.00" font-size="7.8" text-anchor="start" fill="#2a2a2a" textLength="20.2" lengthAdjust="spacingAndGlyphs" >2e-04</text>
<circle cx="31.40" cy="425.40" r="4.30" fill="#fff" stroke="#222" stroke-width="0.95"/>
<text x="40.80" y="427.50" font-size="7.8" text-anchor="start" fill="#2a2a2a" textLength="20.2" lengthAdjust="spacingAndGlyphs" >4e-04</text>
<circle cx="31.40" cy="440.30" r="5.10" fill="#fff" stroke="#222" stroke-width="0.95"/>
<text x="40.80" y="442.40" font-size="7.8" text-anchor="start" fill="#2a2a2a" textLength="20.2" lengthAdjust="spacingAndGlyphs" >6e-04</text>
<circle cx="31.40" cy="455.60" r="5.70" fill="#fff" stroke="#222" stroke-width="0.95"/>
<text x="40.80" y="457.70" font-size="7.8" text-anchor="start" fill="#2a2a2a" textLength="20.2" lengthAdjust="spacingAndGlyphs" >8e-04</text>
<rect x="180.00" y="217.00" width="89.60" height="13.50" fill="#e3e3e3" stroke="#222" stroke-width="1.3"/>
<rect x="180.00" y="230.50" width="89.60" height="374.90" fill="none" stroke="#222" stroke-width="1.3"/>
<text x="225.00" y="226.90" font-size="8.3" text-anchor="middle" fill="#222" textLength="13.4" lengthAdjust="spacingAndGlyphs" >IAA</text>
<line x1="183.80" y1="605.40" x2="183.80" y2="608.60" stroke="#222" stroke-width="1"/>
<text x="183.80" y="617.80" font-size="8.5" text-anchor="middle" fill="#2a2a2a" textLength="4.2" lengthAdjust="spacingAndGlyphs" >0</text>
<line x1="204.36" y1="605.40" x2="204.36" y2="608.60" stroke="#222" stroke-width="1"/>
<text x="204.36" y="617.80" font-size="8.5" text-anchor="middle" fill="#2a2a2a" textLength="8.6" lengthAdjust="spacingAndGlyphs" >25</text>
<line x1="224.93" y1="605.40" x2="224.93" y2="608.60" stroke="#222" stroke-width="1"/>
<text x="224.93" y="617.80" font-size="8.5" text-anchor="middle" fill="#2a2a2a" textLength="8.6" lengthAdjust="spacingAndGlyphs" >50</text>
<line x1="245.49" y1="605.40" x2="245.49" y2="608.60" stroke="#222" stroke-width="1"/>
<text x="245.49" y="617.80" font-size="8.5" text-anchor="middle" fill="#2a2a2a" textLength="8.4" lengthAdjust="spacingAndGlyphs" >75</text>
<line x1="266.05" y1="605.40" x2="266.05" y2="608.60" stroke="#222" stroke-width="1"/>
<text x="266.05" y="617.80" font-size="8.5" text-anchor="middle" fill="#2a2a2a" textLength="11.8" lengthAdjust="spacingAndGlyphs" >100</text>
<rect x="274.50" y="217.00" width="89.70" height="13.50" fill="#e3e3e3" stroke="#222" stroke-width="1.3"/>
<rect x="274.50" y="230.50" width="89.70" height="374.90" fill="none" stroke="#222" stroke-width="1.3"/>
<text x="319.55" y="226.90" font-size="8.3" text-anchor="middle" fill="#222" textLength="11.0" lengthAdjust="spacingAndGlyphs" >HC</text>
<line x1="278.30" y1="605.40" x2="278.30" y2="608.60" stroke="#222" stroke-width="1"/>
<text x="278.30" y="617.80" font-size="8.5" text-anchor="middle" fill="#2a2a2a" textLength="4.2" lengthAdjust="spacingAndGlyphs" >0</text>
<line x1="298.86" y1="605.40" x2="298.86" y2="608.60" stroke="#222" stroke-width="1"/>
<text x="298.86" y="617.80" font-size="8.5" text-anchor="middle" fill="#2a2a2a" textLength="8.6" lengthAdjust="spacingAndGlyphs" >25</text>
<line x1="319.43" y1="605.40" x2="319.43" y2="608.60" stroke="#222" stroke-width="1"/>
<text x="319.43" y="617.80" font-size="8.5" text-anchor="middle" fill="#2a2a2a" textLength="8.6" lengthAdjust="spacingAndGlyphs" >50</text>
<line x1="339.99" y1="605.40" x2="339.99" y2="608.60" stroke="#222" stroke-width="1"/>
<text x="339.99" y="617.80" font-size="8.5" text-anchor="middle" fill="#2a2a2a" textLength="8.4" lengthAdjust="spacingAndGlyphs" >75</text>
<line x1="360.55" y1="605.40" x2="360.55" y2="608.60" stroke="#222" stroke-width="1"/>
<text x="360.55" y="617.80" font-size="8.5" text-anchor="middle" fill="#2a2a2a" textLength="11.8" lengthAdjust="spacingAndGlyphs" >100</text>
<text x="269.60" y="630.60" font-size="8.3" text-anchor="middle" fill="#2a2a2a" textLength="49.4" lengthAdjust="spacingAndGlyphs" ># of clonotypes</text>
<line x1="177.00" y1="244.50" x2="180.00" y2="244.50" stroke="#222" stroke-width="1"/>
<text x="174.40" y="247.30" font-size="8.6" text-anchor="end" fill="#2a2a2a" textLength="58.1" lengthAdjust="spacingAndGlyphs" >Ulcerative colitis</text>
<text x="370.30" y="247.30" font-size="9.5" text-anchor="start" fill="#43ace2" letter-spacing="-0.4">****</text>
<line x1="177.00" y1="267.65" x2="180.00" y2="267.65" stroke="#222" stroke-width="1"/>
<text x="174.40" y="270.45" font-size="8.6" text-anchor="end" fill="#2a2a2a" textLength="36.9" lengthAdjust="spacingAndGlyphs" >Thyroiditis</text>
<text x="370.30" y="270.45" font-size="9.5" text-anchor="start" fill="#43ace2" letter-spacing="-0.4">***</text>
<line x1="177.00" y1="290.80" x2="180.00" y2="290.80" stroke="#222" stroke-width="1"/>
<text x="174.40" y="293.60" font-size="8.6" text-anchor="end" fill="#2a2a2a" textLength="106.89999999999999" lengthAdjust="spacingAndGlyphs" >Systemic lupus erythematosus</text>
<text x="370.30" y="293.60" font-size="9.5" text-anchor="start" fill="#43ace2" letter-spacing="-0.4">****</text>
<line x1="177.00" y1="313.95" x2="180.00" y2="313.95" stroke="#222" stroke-width="1"/>
<text x="174.40" y="316.75" font-size="8.6" text-anchor="end" fill="#2a2a2a" textLength="72.19999999999999" lengthAdjust="spacingAndGlyphs" >Rheumatoid arthritis</text>
<text x="370.30" y="316.75" font-size="9.5" text-anchor="start" fill="#43ace2" letter-spacing="-0.4">****</text>
<line x1="177.00" y1="337.10" x2="180.00" y2="337.10" stroke="#222" stroke-width="1"/>
<text x="174.40" y="339.90" font-size="8.6" text-anchor="end" fill="#2a2a2a" textLength="59.5" lengthAdjust="spacingAndGlyphs" >Psoriatic arthritis</text>
<text x="370.30" y="339.90" font-size="9.5" text-anchor="start" fill="#43ace2" letter-spacing="-0.4">****</text>
<line x1="177.00" y1="360.25" x2="180.00" y2="360.25" stroke="#222" stroke-width="1"/>
<text x="174.40" y="363.05" font-size="8.6" text-anchor="end" fill="#2a2a2a" textLength="81.39999999999999" lengthAdjust="spacingAndGlyphs" >Primary biliary cirrhosis</text>
<text x="370.30" y="363.05" font-size="9.5" text-anchor="start" fill="#43ace2" letter-spacing="-0.4">**</text>
<line x1="177.00" y1="383.40" x2="180.00" y2="383.40" stroke="#222" stroke-width="1"/>
<text x="174.40" y="386.20" font-size="8.6" text-anchor="end" fill="#2a2a2a" textLength="44.5" lengthAdjust="spacingAndGlyphs" >Polymyositis</text>
<text x="370.30" y="386.20" font-size="9.5" text-anchor="start" fill="#43ace2" letter-spacing="-0.4">*</text>
<line x1="177.00" y1="406.55" x2="180.00" y2="406.55" stroke="#222" stroke-width="1"/>
<text x="174.40" y="409.35" font-size="8.6" text-anchor="end" fill="#2a2a2a" textLength="39.9" lengthAdjust="spacingAndGlyphs" >Narcolepsy</text>
<text x="370.30" y="409.35" font-size="9.5" text-anchor="start" fill="#43ace2" letter-spacing="-0.4">****</text>
<line x1="177.00" y1="429.70" x2="180.00" y2="429.70" stroke="#222" stroke-width="1"/>
<text x="174.40" y="432.50" font-size="8.6" text-anchor="end" fill="#2a2a2a" textLength="63.2" lengthAdjust="spacingAndGlyphs" >Myasthenia gravis</text>
<text x="370.30" y="432.50" font-size="9.5" text-anchor="start" fill="#43ace2" letter-spacing="-0.4">****</text>
<line x1="177.00" y1="452.85" x2="180.00" y2="452.85" stroke="#222" stroke-width="1"/>
<text x="174.40" y="455.65" font-size="8.6" text-anchor="end" fill="#2a2a2a" textLength="61.4" lengthAdjust="spacingAndGlyphs" >Multiple sclerosis</text>
<text x="370.50" y="455.45" font-size="7.6" text-anchor="start" fill="#222" >ns</text>
<line x1="177.00" y1="476.00" x2="180.00" y2="476.00" stroke="#222" stroke-width="1"/>
<text x="174.40" y="478.80" font-size="8.6" text-anchor="end" fill="#2a2a2a" textLength="98.8" lengthAdjust="spacingAndGlyphs" >Inflammatory bowel disease</text>
<text x="370.30" y="478.80" font-size="9.5" text-anchor="start" fill="#43ace2" letter-spacing="-0.4">****</text>
<line x1="177.00" y1="499.15" x2="180.00" y2="499.15" stroke="#222" stroke-width="1"/>
<text x="174.40" y="501.95" font-size="8.6" text-anchor="end" fill="#2a2a2a" textLength="82.1" lengthAdjust="spacingAndGlyphs" >Inclusion body myositis</text>
<text x="370.30" y="501.95" font-size="9.5" text-anchor="start" fill="#43ace2" letter-spacing="-0.4">****</text>
<line x1="177.00" y1="522.30" x2="180.00" y2="522.30" stroke="#222" stroke-width="1"/>
<text x="174.40" y="525.10" font-size="8.6" text-anchor="end" fill="#2a2a2a" textLength="74.3" lengthAdjust="spacingAndGlyphs" >IgG4-related disease</text>
<text x="370.30" y="525.10" font-size="9.5" text-anchor="start" fill="#43ace2" letter-spacing="-0.4">****</text>
<line x1="177.00" y1="545.45" x2="180.00" y2="545.45" stroke="#222" stroke-width="1"/>
<text x="174.40" y="548.25" font-size="8.6" text-anchor="end" fill="#2a2a2a" textLength="56.5" lengthAdjust="spacingAndGlyphs" >Diabetes type 1</text>
<text x="370.30" y="548.25" font-size="9.5" text-anchor="start" fill="#43ace2" letter-spacing="-0.4">****</text>
<line x1="177.00" y1="568.60" x2="180.00" y2="568.60" stroke="#222" stroke-width="1"/>
<text x="174.40" y="571.40" font-size="8.6" text-anchor="end" fill="#2a2a2a" textLength="50.2" lengthAdjust="spacingAndGlyphs" >Celiac disease</text>
<text x="370.30" y="571.40" font-size="9.5" text-anchor="start" fill="#43ace2" letter-spacing="-0.4">****</text>
<line x1="177.00" y1="591.75" x2="180.00" y2="591.75" stroke="#222" stroke-width="1"/>
<text x="174.40" y="594.55" font-size="8.6" text-anchor="end" fill="#2a2a2a" textLength="79.1" lengthAdjust="spacingAndGlyphs" >Autoimmune hepatitis</text>
<text x="370.30" y="594.55" font-size="9.5" text-anchor="start" fill="#43ace2" letter-spacing="-0.4">*</text>
<circle cx="184.70" cy="244.50" r="3.50" fill="#c8102e" stroke="#222" stroke-width="0.55"/>
<circle cx="193.90" cy="244.50" r="2.10" fill="#c8102e" stroke="#222" stroke-width="0.55"/>
<circle cx="184.70" cy="244.50" r="2.00" fill="#c8102e" stroke="#222" stroke-width="0.55"/>
<circle cx="185.10" cy="267.65" r="2.20" fill="#c8102e" stroke="#222" stroke-width="0.55"/>
<circle cx="186.50" cy="267.65" r="1.80" fill="#c8102e" stroke="#222" stroke-width="0.55"/>
<circle cx="186.00" cy="290.80" r="4.75" fill="#c8102e" stroke="#222" stroke-width="0.55"/>
<circle cx="185.60" cy="290.80" r="2.60" fill="#c8102e" stroke="#222" stroke-width="0.55"/>
<circle cx="260.30" cy="290.80" r="1.90" fill="#c8102e" stroke="#222" stroke-width="0.55"/>
<circle cx="210.70" cy="290.80" r="1.80" fill="#c8102e" stroke="#222" stroke-width="0.55"/>
<circle cx="216.30" cy="290.80" r="1.80" fill="#c8102e" stroke="#222" stroke-width="0.55"/>
<circle cx="193.00" cy="290.80" r="1.75" fill="#c8102e" stroke="#222" stroke-width="0.55"/>
<circle cx="195.40" cy="290.80" r="1.75" fill="#c8102e" stroke="#222" stroke-width="0.55"/>
<circle cx="197.70" cy="290.80" r="1.75" fill="#c8102e" stroke="#222" stroke-width="0.55"/>
<circle cx="200.30" cy="290.80" r="1.75" fill="#c8102e" stroke="#222" stroke-width="0.55"/>
<circle cx="202.70" cy="290.80" r="1.75" fill="#c8102e" stroke="#222" stroke-width="0.55"/>
<circle cx="205.10" cy="290.80" r="1.75" fill="#c8102e" stroke="#222" stroke-width="0.55"/>
<circle cx="207.50" cy="290.80" r="1.75" fill="#c8102e" stroke="#222" stroke-width="0.55"/>
<circle cx="184.80" cy="290.80" r="1.60" fill="#c8102e" stroke="#222" stroke-width="0.55"/>
<circle cx="186.50" cy="313.95" r="3.20" fill="#c8102e" stroke="#222" stroke-width="0.55"/>
<circle cx="184.70" cy="313.95" r="2.50" fill="#c8102e" stroke="#222" stroke-width="0.55"/>
<circle cx="223.10" cy="313.95" r="2.00" fill="#c8102e" stroke="#222" stroke-width="0.55"/>
<circle cx="189.50" cy="313.95" r="1.70" fill="#c8102e" stroke="#222" stroke-width="0.55"/>
<circle cx="191.30" cy="313.95" r="1.70" fill="#c8102e" stroke="#222" stroke-width="0.55"/>
<circle cx="193.00" cy="313.95" r="1.70" fill="#c8102e" stroke="#222" stroke-width="0.55"/>
<circle cx="194.80" cy="313.95" r="1.70" fill="#c8102e" stroke="#222" stroke-width="0.55"/>
<circle cx="196.60" cy="313.95" r="1.70" fill="#c8102e" stroke="#222" stroke-width="0.55"/>
<circle cx="186.00" cy="337.10" r="3.30" fill="#c8102e" stroke="#222" stroke-width="0.55"/>
<circle cx="184.10" cy="337.10" r="2.30" fill="#c8102e" stroke="#222" stroke-width="0.55"/>
<circle cx="221.40" cy="337.10" r="1.90" fill="#c8102e" stroke="#222" stroke-width="0.55"/>
<circle cx="189.30" cy="337.10" r="1.70" fill="#c8102e" stroke="#222" stroke-width="0.55"/>
<circle cx="191.00" cy="337.10" r="1.70" fill="#c8102e" stroke="#222" stroke-width="0.55"/>
<circle cx="192.70" cy="337.10" r="1.70" fill="#c8102e" stroke="#222" stroke-width="0.55"/>
<circle cx="194.30" cy="337.10" r="1.70" fill="#c8102e" stroke="#222" stroke-width="0.55"/>
<circle cx="195.70" cy="337.10" r="1.70" fill="#c8102e" stroke="#222" stroke-width="0.55"/>
<circle cx="184.70" cy="360.25" r="2.30" fill="#c8102e" stroke="#222" stroke-width="0.55"/>
<circle cx="185.10" cy="383.40" r="2.10" fill="#c8102e" stroke="#222" stroke-width="0.55"/>
<circle cx="186.30" cy="383.40" r="1.80" fill="#c8102e" stroke="#222" stroke-width="0.55"/>
<circle cx="184.50" cy="406.55" r="5.20" fill="#c8102e" stroke="#222" stroke-width="0.55"/>
<circle cx="185.30" cy="406.55" r="3.00" fill="#c8102e" stroke="#222" stroke-width="0.55"/>
<circle cx="186.50" cy="406.55" r="2.00" fill="#c8102e" stroke="#222" stroke-width="0.55"/>
<circle cx="194.50" cy="406.55" r="1.90" fill="#c8102e" stroke="#222" stroke-width="0.55"/>
<circle cx="188.00" cy="406.55" r="1.70" fill="#c8102e" stroke="#222" stroke-width="0.55"/>
<circle cx="184.50" cy="429.70" r="1.90" fill="#c8102e" stroke="#222" stroke-width="0.55"/>
<circle cx="184.20" cy="452.85" r="3.20" fill="#c8102e" stroke="#222" stroke-width="0.55"/>
<circle cx="185.00" cy="452.85" r="2.00" fill="#c8102e" stroke="#222" stroke-width="0.55"/>
<circle cx="211.60" cy="452.85" r="2.00" fill="#c8102e" stroke="#222" stroke-width="0.55"/>
<circle cx="216.90" cy="452.85" r="2.00" fill="#c8102e" stroke="#222" stroke-width="0.55"/>
<circle cx="189.50" cy="452.85" r="1.60" fill="#c8102e" stroke="#222" stroke-width="0.55"/>
<circle cx="192.20" cy="452.85" r="1.60" fill="#c8102e" stroke="#222" stroke-width="0.55"/>
<circle cx="194.80" cy="452.85" r="1.60" fill="#c8102e" stroke="#222" stroke-width="0.55"/>
<circle cx="185.00" cy="476.00" r="5.20" fill="#c8102e" stroke="#222" stroke-width="0.55"/>
<circle cx="185.80" cy="476.00" r="3.20" fill="#c8102e" stroke="#222" stroke-width="0.55"/>
<circle cx="266.00" cy="476.00" r="1.80" fill="#c8102e" stroke="#222" stroke-width="0.55"/>
<circle cx="203.40" cy="476.00" r="1.60" fill="#c8102e" stroke="#222" stroke-width="0.55"/>
<circle cx="191.20" cy="476.00" r="1.50" fill="#c8102e" stroke="#222" stroke-width="0.55"/>
<circle cx="193.80" cy="476.00" r="1.50" fill="#c8102e" stroke="#222" stroke-width="0.55"/>
<circle cx="196.00" cy="476.00" r="1.50" fill="#c8102e" stroke="#222" stroke-width="0.55"/>
<circle cx="198.20" cy="476.00" r="1.50" fill="#c8102e" stroke="#222" stroke-width="0.55"/>
<circle cx="200.80" cy="476.00" r="1.50" fill="#c8102e" stroke="#222" stroke-width="0.55"/>
<circle cx="184.70" cy="499.15" r="2.50" fill="#c8102e" stroke="#222" stroke-width="0.55"/>
<circle cx="218.40" cy="499.15" r="1.80" fill="#c8102e" stroke="#222" stroke-width="0.55"/>
<circle cx="187.70" cy="499.15" r="1.60" fill="#c8102e" stroke="#222" stroke-width="0.55"/>
<circle cx="190.40" cy="499.15" r="1.60" fill="#c8102e" stroke="#222" stroke-width="0.55"/>
<circle cx="195.20" cy="499.15" r="1.60" fill="#c8102e" stroke="#222" stroke-width="0.55"/>
<circle cx="184.70" cy="522.30" r="2.30" fill="#c8102e" stroke="#222" stroke-width="0.55"/>
<circle cx="186.20" cy="522.30" r="2.00" fill="#c8102e" stroke="#222" stroke-width="0.55"/>
<circle cx="184.50" cy="545.45" r="4.80" fill="#c8102e" stroke="#222" stroke-width="0.55"/>
<circle cx="186.80" cy="545.45" r="2.50" fill="#c8102e" stroke="#222" stroke-width="0.55"/>
<circle cx="189.50" cy="545.45" r="1.90" fill="#c8102e" stroke="#222" stroke-width="0.55"/>
<circle cx="192.10" cy="545.45" r="1.90" fill="#c8102e" stroke="#222" stroke-width="0.55"/>
<circle cx="197.30" cy="545.45" r="1.90" fill="#c8102e" stroke="#222" stroke-width="0.55"/>
<circle cx="199.90" cy="545.45" r="1.90" fill="#c8102e" stroke="#222" stroke-width="0.55"/>
<circle cx="204.20" cy="545.45" r="1.90" fill="#c8102e" stroke="#222" stroke-width="0.55"/>
<circle cx="206.80" cy="545.45" r="1.90" fill="#c8102e" stroke="#222" stroke-width="0.55"/>
<circle cx="209.40" cy="545.45" r="1.90" fill="#c8102e" stroke="#222" stroke-width="0.55"/>
<circle cx="212.00" cy="545.45" r="1.90" fill="#c8102e" stroke="#222" stroke-width="0.55"/>
<circle cx="214.60" cy="545.45" r="1.90" fill="#c8102e" stroke="#222" stroke-width="0.55"/>
<circle cx="216.90" cy="545.45" r="1.90" fill="#c8102e" stroke="#222" stroke-width="0.55"/>
<circle cx="219.40" cy="545.45" r="1.90" fill="#c8102e" stroke="#222" stroke-width="0.55"/>
<circle cx="221.50" cy="545.45" r="1.90" fill="#c8102e" stroke="#222" stroke-width="0.55"/>
<circle cx="224.60" cy="545.45" r="1.90" fill="#c8102e" stroke="#222" stroke-width="0.55"/>
<circle cx="231.00" cy="545.45" r="1.90" fill="#c8102e" stroke="#222" stroke-width="0.55"/>
<circle cx="233.60" cy="545.45" r="1.90" fill="#c8102e" stroke="#222" stroke-width="0.55"/>
<circle cx="238.80" cy="545.45" r="1.90" fill="#c8102e" stroke="#222" stroke-width="0.55"/>
<circle cx="258.70" cy="545.45" r="1.90" fill="#c8102e" stroke="#222" stroke-width="0.55"/>
<circle cx="186.00" cy="568.60" r="3.80" fill="#c8102e" stroke="#222" stroke-width="0.55"/>
<circle cx="184.80" cy="568.60" r="2.20" fill="#c8102e" stroke="#222" stroke-width="0.55"/>
<circle cx="196.40" cy="568.60" r="1.90" fill="#c8102e" stroke="#222" stroke-width="0.55"/>
<circle cx="198.70" cy="568.60" r="1.90" fill="#c8102e" stroke="#222" stroke-width="0.55"/>
<circle cx="200.80" cy="568.60" r="1.90" fill="#c8102e" stroke="#222" stroke-width="0.55"/>
<circle cx="204.20" cy="568.60" r="1.90" fill="#c8102e" stroke="#222" stroke-width="0.55"/>
<circle cx="207.70" cy="568.60" r="1.90" fill="#c8102e" stroke="#222" stroke-width="0.55"/>
<circle cx="210.80" cy="568.60" r="1.90" fill="#c8102e" stroke="#222" stroke-width="0.55"/>
<circle cx="213.70" cy="568.60" r="1.90" fill="#c8102e" stroke="#222" stroke-width="0.55"/>
<circle cx="217.70" cy="568.60" r="1.90" fill="#c8102e" stroke="#222" stroke-width="0.55"/>
<circle cx="221.50" cy="568.60" r="1.90" fill="#c8102e" stroke="#222" stroke-width="0.55"/>
<circle cx="225.30" cy="568.60" r="1.90" fill="#c8102e" stroke="#222" stroke-width="0.55"/>
<circle cx="231.60" cy="568.60" r="1.90" fill="#c8102e" stroke="#222" stroke-width="0.55"/>
<circle cx="238.00" cy="568.60" r="1.90" fill="#c8102e" stroke="#222" stroke-width="0.55"/>
<circle cx="191.80" cy="568.60" r="1.80" fill="#c8102e" stroke="#222" stroke-width="0.55"/>
<circle cx="184.70" cy="591.75" r="1.90" fill="#c8102e" stroke="#222" stroke-width="0.55"/>
<circle cx="278.80" cy="244.50" r="2.90" fill="#1d5289" stroke="#111" stroke-width="0.55"/>
<circle cx="292.70" cy="244.50" r="2.60" fill="#1d5289" stroke="#111" stroke-width="0.55"/>
<circle cx="281.50" cy="244.50" r="1.50" fill="#1d5289" stroke="#111" stroke-width="0.55"/>
<circle cx="283.70" cy="244.50" r="1.50" fill="#1d5289" stroke="#111" stroke-width="0.55"/>
<circle cx="285.90" cy="244.50" r="1.50" fill="#1d5289" stroke="#111" stroke-width="0.55"/>
<circle cx="288.10" cy="244.50" r="1.50" fill="#1d5289" stroke="#111" stroke-width="0.55"/>
<circle cx="290.30" cy="244.50" r="1.50" fill="#1d5289" stroke="#111" stroke-width="0.55"/>
<circle cx="279.00" cy="267.65" r="2.20" fill="#1d5289" stroke="#111" stroke-width="0.55"/>
<circle cx="282.00" cy="267.65" r="1.60" fill="#1d5289" stroke="#111" stroke-width="0.55"/>
<circle cx="283.90" cy="267.65" r="1.50" fill="#1d5289" stroke="#111" stroke-width="0.55"/>
<circle cx="321.00" cy="290.80" r="2.80" fill="#1d5289" stroke="#111" stroke-width="0.55"/>
<circle cx="288.50" cy="290.80" r="2.20" fill="#1d5289" stroke="#111" stroke-width="0.55"/>
<circle cx="290.50" cy="290.80" r="2.00" fill="#1d5289" stroke="#111" stroke-width="0.55"/>
<circle cx="286.50" cy="290.80" r="1.80" fill="#1d5289" stroke="#111" stroke-width="0.55"/>
<circle cx="284.50" cy="290.80" r="1.60" fill="#1d5289" stroke="#111" stroke-width="0.55"/>
<circle cx="278.00" cy="290.80" r="1.50" fill="#1d5289" stroke="#111" stroke-width="0.55"/>
<circle cx="280.50" cy="290.80" r="1.50" fill="#1d5289" stroke="#111" stroke-width="0.55"/>
<circle cx="293.00" cy="290.80" r="1.50" fill="#1d5289" stroke="#111" stroke-width="0.55"/>
<circle cx="296.50" cy="290.80" r="1.50" fill="#1d5289" stroke="#111" stroke-width="0.55"/>
<circle cx="299.50" cy="290.80" r="1.50" fill="#1d5289" stroke="#111" stroke-width="0.55"/>
<circle cx="302.10" cy="290.80" r="1.50" fill="#1d5289" stroke="#111" stroke-width="0.55"/>
<circle cx="304.70" cy="290.80" r="1.50" fill="#1d5289" stroke="#111" stroke-width="0.55"/>
<circle cx="307.30" cy="290.80" r="1.50" fill="#1d5289" stroke="#111" stroke-width="0.55"/>
<circle cx="309.90" cy="290.80" r="1.50" fill="#1d5289" stroke="#111" stroke-width="0.55"/>
<circle cx="312.50" cy="290.80" r="1.50" fill="#1d5289" stroke="#111" stroke-width="0.55"/>
<circle cx="315.10" cy="290.80" r="1.50" fill="#1d5289" stroke="#111" stroke-width="0.55"/>
<circle cx="317.70" cy="290.80" r="1.50" fill="#1d5289" stroke="#111" stroke-width="0.55"/>
<circle cx="323.80" cy="290.80" r="1.50" fill="#1d5289" stroke="#111" stroke-width="0.55"/>
<circle cx="326.30" cy="290.80" r="1.50" fill="#1d5289" stroke="#111" stroke-width="0.55"/>
<circle cx="328.80" cy="290.80" r="1.50" fill="#1d5289" stroke="#111" stroke-width="0.55"/>
<circle cx="333.50" cy="290.80" r="1.50" fill="#1d5289" stroke="#111" stroke-width="0.55"/>
<circle cx="336.20" cy="290.80" r="1.50" fill="#1d5289" stroke="#111" stroke-width="0.55"/>
<circle cx="338.90" cy="290.80" r="1.50" fill="#1d5289" stroke="#111" stroke-width="0.55"/>
<circle cx="341.60" cy="290.80" r="1.50" fill="#1d5289" stroke="#111" stroke-width="0.55"/>
<circle cx="345.50" cy="290.80" r="1.50" fill="#1d5289" stroke="#111" stroke-width="0.55"/>
<circle cx="348.10" cy="290.80" r="1.50" fill="#1d5289" stroke="#111" stroke-width="0.55"/>
<circle cx="350.70" cy="290.80" r="1.50" fill="#1d5289" stroke="#111" stroke-width="0.55"/>
<circle cx="353.30" cy="290.80" r="1.50" fill="#1d5289" stroke="#111" stroke-width="0.55"/>
<circle cx="355.90" cy="290.80" r="1.50" fill="#1d5289" stroke="#111" stroke-width="0.55"/>
<circle cx="358.50" cy="290.80" r="1.50" fill="#1d5289" stroke="#111" stroke-width="0.55"/>
<circle cx="361.10" cy="290.80" r="1.50" fill="#1d5289" stroke="#111" stroke-width="0.55"/>
<circle cx="291.20" cy="313.95" r="3.00" fill="#1d5289" stroke="#111" stroke-width="0.55"/>
<circle cx="280.20" cy="313.95" r="1.70" fill="#1d5289" stroke="#111" stroke-width="0.55"/>
<circle cx="282.40" cy="313.95" r="1.70" fill="#1d5289" stroke="#111" stroke-width="0.55"/>
<circle cx="284.60" cy="313.95" r="1.70" fill="#1d5289" stroke="#111" stroke-width="0.55"/>
<circle cx="286.80" cy="313.95" r="1.70" fill="#1d5289" stroke="#111" stroke-width="0.55"/>
<circle cx="289.00" cy="313.95" r="1.70" fill="#1d5289" stroke="#111" stroke-width="0.55"/>
<circle cx="294.00" cy="313.95" r="1.60" fill="#1d5289" stroke="#111" stroke-width="0.55"/>
<circle cx="296.55" cy="313.95" r="1.60" fill="#1d5289" stroke="#111" stroke-width="0.55"/>
<circle cx="299.10" cy="313.95" r="1.60" fill="#1d5289" stroke="#111" stroke-width="0.55"/>
<circle cx="301.65" cy="313.95" r="1.60" fill="#1d5289" stroke="#111" stroke-width="0.55"/>
<circle cx="304.20" cy="313.95" r="1.60" fill="#1d5289" stroke="#111" stroke-width="0.55"/>
<circle cx="306.75" cy="313.95" r="1.60" fill="#1d5289" stroke="#111" stroke-width="0.55"/>
<circle cx="309.30" cy="313.95" r="1.60" fill="#1d5289" stroke="#111" stroke-width="0.55"/>
<circle cx="311.85" cy="313.95" r="1.60" fill="#1d5289" stroke="#111" stroke-width="0.55"/>
<circle cx="314.40" cy="313.95" r="1.60" fill="#1d5289" stroke="#111" stroke-width="0.55"/>
<circle cx="316.95" cy="313.95" r="1.60" fill="#1d5289" stroke="#111" stroke-width="0.55"/>
<circle cx="319.50" cy="313.95" r="1.60" fill="#1d5289" stroke="#111" stroke-width="0.55"/>
<circle cx="322.05" cy="313.95" r="1.60" fill="#1d5289" stroke="#111" stroke-width="0.55"/>
<circle cx="328.90" cy="313.95" r="1.60" fill="#1d5289" stroke="#111" stroke-width="0.55"/>
<circle cx="330.60" cy="313.95" r="1.60" fill="#1d5289" stroke="#111" stroke-width="0.55"/>
<circle cx="286.70" cy="337.10" r="2.80" fill="#1d5289" stroke="#111" stroke-width="0.55"/>
<circle cx="308.50" cy="337.10" r="2.80" fill="#1d5289" stroke="#111" stroke-width="0.55"/>
<circle cx="278.40" cy="337.10" r="1.70" fill="#1d5289" stroke="#111" stroke-width="0.55"/>
<circle cx="280.60" cy="337.10" r="1.70" fill="#1d5289" stroke="#111" stroke-width="0.55"/>
<circle cx="282.80" cy="337.10" r="1.70" fill="#1d5289" stroke="#111" stroke-width="0.55"/>
<circle cx="285.00" cy="337.10" r="1.70" fill="#1d5289" stroke="#111" stroke-width="0.55"/>
<circle cx="289.30" cy="337.10" r="1.60" fill="#1d5289" stroke="#111" stroke-width="0.55"/>
<circle cx="291.80" cy="337.10" r="1.60" fill="#1d5289" stroke="#111" stroke-width="0.55"/>
<circle cx="294.30" cy="337.10" r="1.60" fill="#1d5289" stroke="#111" stroke-width="0.55"/>
<circle cx="296.80" cy="337.10" r="1.60" fill="#1d5289" stroke="#111" stroke-width="0.55"/>
<circle cx="299.30" cy="337.10" r="1.60" fill="#1d5289" stroke="#111" stroke-width="0.55"/>
<circle cx="301.80" cy="337.10" r="1.60" fill="#1d5289" stroke="#111" stroke-width="0.55"/>
<circle cx="304.30" cy="337.10" r="1.60" fill="#1d5289" stroke="#111" stroke-width="0.55"/>
<circle cx="311.00" cy="337.10" r="1.60" fill="#1d5289" stroke="#111" stroke-width="0.55"/>
<circle cx="313.70" cy="337.10" r="1.60" fill="#1d5289" stroke="#111" stroke-width="0.55"/>
<circle cx="316.40" cy="337.10" r="1.60" fill="#1d5289" stroke="#111" stroke-width="0.55"/>
<circle cx="319.10" cy="337.10" r="1.60" fill="#1d5289" stroke="#111" stroke-width="0.55"/>
<circle cx="321.80" cy="337.10" r="1.60" fill="#1d5289" stroke="#111" stroke-width="0.55"/>
<circle cx="327.50" cy="337.10" r="1.60" fill="#1d5289" stroke="#111" stroke-width="0.55"/>
<circle cx="279.00" cy="360.25" r="3.00" fill="#1d5289" stroke="#111" stroke-width="0.55"/>
<circle cx="282.50" cy="360.25" r="1.80" fill="#1d5289" stroke="#111" stroke-width="0.55"/>
<circle cx="283.50" cy="360.25" r="1.60" fill="#1d5289" stroke="#111" stroke-width="0.55"/>
<circle cx="279.90" cy="383.40" r="2.00" fill="#1d5289" stroke="#111" stroke-width="0.55"/>
<circle cx="278.40" cy="406.55" r="1.80" fill="#1d5289" stroke="#111" stroke-width="0.55"/>
<circle cx="280.80" cy="406.55" r="1.80" fill="#1d5289" stroke="#111" stroke-width="0.55"/>
<circle cx="283.20" cy="406.55" r="1.80" fill="#1d5289" stroke="#111" stroke-width="0.55"/>
<circle cx="285.60" cy="406.55" r="1.80" fill="#1d5289" stroke="#111" stroke-width="0.55"/>
<circle cx="288.00" cy="406.55" r="1.80" fill="#1d5289" stroke="#111" stroke-width="0.55"/>
<circle cx="290.40" cy="406.55" r="1.80" fill="#1d5289" stroke="#111" stroke-width="0.55"/>
<circle cx="292.80" cy="406.55" r="1.80" fill="#1d5289" stroke="#111" stroke-width="0.55"/>
<circle cx="300.70" cy="406.55" r="1.80" fill="#1d5289" stroke="#111" stroke-width="0.55"/>
<circle cx="279.30" cy="429.70" r="2.30" fill="#1d5289" stroke="#111" stroke-width="0.55"/>
<circle cx="281.50" cy="429.70" r="1.90" fill="#1d5289" stroke="#111" stroke-width="0.55"/>
<circle cx="283.00" cy="452.85" r="2.50" fill="#1d5289" stroke="#111" stroke-width="0.55"/>
<circle cx="288.50" cy="452.85" r="2.50" fill="#1d5289" stroke="#111" stroke-width="0.55"/>
<circle cx="313.10" cy="452.85" r="2.50" fill="#1d5289" stroke="#111" stroke-width="0.55"/>
<circle cx="279.00" cy="452.85" r="1.80" fill="#1d5289" stroke="#111" stroke-width="0.55"/>
<circle cx="281.00" cy="452.85" r="1.80" fill="#1d5289" stroke="#111" stroke-width="0.55"/>
<circle cx="285.80" cy="452.85" r="1.60" fill="#1d5289" stroke="#111" stroke-width="0.55"/>
<circle cx="291.00" cy="452.85" r="1.60" fill="#1d5289" stroke="#111" stroke-width="0.55"/>
<circle cx="293.50" cy="452.85" r="1.60" fill="#1d5289" stroke="#111" stroke-width="0.55"/>
<circle cx="296.00" cy="452.85" r="1.60" fill="#1d5289" stroke="#111" stroke-width="0.55"/>
<circle cx="298.50" cy="452.85" r="1.60" fill="#1d5289" stroke="#111" stroke-width="0.55"/>
<circle cx="301.00" cy="452.85" r="1.60" fill="#1d5289" stroke="#111" stroke-width="0.55"/>
<circle cx="303.50" cy="452.85" r="1.60" fill="#1d5289" stroke="#111" stroke-width="0.55"/>
<circle cx="306.00" cy="452.85" r="1.60" fill="#1d5289" stroke="#111" stroke-width="0.55"/>
<circle cx="308.50" cy="452.85" r="1.60" fill="#1d5289" stroke="#111" stroke-width="0.55"/>
<circle cx="311.00" cy="452.85" r="1.60" fill="#1d5289" stroke="#111" stroke-width="0.55"/>
<circle cx="320.40" cy="452.85" r="1.60" fill="#1d5289" stroke="#111" stroke-width="0.55"/>
<circle cx="282.60" cy="476.00" r="1.60" fill="#1d5289" stroke="#111" stroke-width="0.55"/>
<circle cx="285.10" cy="476.00" r="1.60" fill="#1d5289" stroke="#111" stroke-width="0.55"/>
<circle cx="287.60" cy="476.00" r="1.60" fill="#1d5289" stroke="#111" stroke-width="0.55"/>
<circle cx="290.10" cy="476.00" r="1.60" fill="#1d5289" stroke="#111" stroke-width="0.55"/>
<circle cx="292.60" cy="476.00" r="1.60" fill="#1d5289" stroke="#111" stroke-width="0.55"/>
<circle cx="295.10" cy="476.00" r="1.60" fill="#1d5289" stroke="#111" stroke-width="0.55"/>
<circle cx="297.60" cy="476.00" r="1.60" fill="#1d5289" stroke="#111" stroke-width="0.55"/>
<circle cx="300.10" cy="476.00" r="1.60" fill="#1d5289" stroke="#111" stroke-width="0.55"/>
<circle cx="302.60" cy="476.00" r="1.60" fill="#1d5289" stroke="#111" stroke-width="0.55"/>
<circle cx="305.10" cy="476.00" r="1.60" fill="#1d5289" stroke="#111" stroke-width="0.55"/>
<circle cx="307.60" cy="476.00" r="1.60" fill="#1d5289" stroke="#111" stroke-width="0.55"/>
<circle cx="310.10" cy="476.00" r="1.60" fill="#1d5289" stroke="#111" stroke-width="0.55"/>
<circle cx="312.60" cy="476.00" r="1.60" fill="#1d5289" stroke="#111" stroke-width="0.55"/>
<circle cx="315.10" cy="476.00" r="1.60" fill="#1d5289" stroke="#111" stroke-width="0.55"/>
<circle cx="317.60" cy="476.00" r="1.60" fill="#1d5289" stroke="#111" stroke-width="0.55"/>
<circle cx="320.10" cy="476.00" r="1.60" fill="#1d5289" stroke="#111" stroke-width="0.55"/>
<circle cx="322.60" cy="476.00" r="1.60" fill="#1d5289" stroke="#111" stroke-width="0.55"/>
<circle cx="325.10" cy="476.00" r="1.60" fill="#1d5289" stroke="#111" stroke-width="0.55"/>
<circle cx="327.60" cy="476.00" r="1.60" fill="#1d5289" stroke="#111" stroke-width="0.55"/>
<circle cx="330.10" cy="476.00" r="1.60" fill="#1d5289" stroke="#111" stroke-width="0.55"/>
<circle cx="332.60" cy="476.00" r="1.60" fill="#1d5289" stroke="#111" stroke-width="0.55"/>
<circle cx="335.10" cy="476.00" r="1.60" fill="#1d5289" stroke="#111" stroke-width="0.55"/>
<circle cx="337.60" cy="476.00" r="1.60" fill="#1d5289" stroke="#111" stroke-width="0.55"/>
<circle cx="340.10" cy="476.00" r="1.60" fill="#1d5289" stroke="#111" stroke-width="0.55"/>
<circle cx="348.40" cy="476.00" r="1.60" fill="#1d5289" stroke="#111" stroke-width="0.55"/>
<circle cx="359.40" cy="476.00" r="1.60" fill="#1d5289" stroke="#111" stroke-width="0.55"/>
<circle cx="308.60" cy="499.15" r="3.30" fill="#1d5289" stroke="#111" stroke-width="0.55"/>
<circle cx="289.00" cy="499.15" r="2.80" fill="#1d5289" stroke="#111" stroke-width="0.55"/>
<circle cx="279.00" cy="499.15" r="1.70" fill="#1d5289" stroke="#111" stroke-width="0.55"/>
<circle cx="281.20" cy="499.15" r="1.70" fill="#1d5289" stroke="#111" stroke-width="0.55"/>
<circle cx="283.40" cy="499.15" r="1.70" fill="#1d5289" stroke="#111" stroke-width="0.55"/>
<circle cx="285.60" cy="499.15" r="1.70" fill="#1d5289" stroke="#111" stroke-width="0.55"/>
<circle cx="291.50" cy="499.15" r="1.60" fill="#1d5289" stroke="#111" stroke-width="0.55"/>
<circle cx="294.00" cy="499.15" r="1.60" fill="#1d5289" stroke="#111" stroke-width="0.55"/>
<circle cx="296.50" cy="499.15" r="1.60" fill="#1d5289" stroke="#111" stroke-width="0.55"/>
<circle cx="299.00" cy="499.15" r="1.60" fill="#1d5289" stroke="#111" stroke-width="0.55"/>
<circle cx="301.50" cy="499.15" r="1.60" fill="#1d5289" stroke="#111" stroke-width="0.55"/>
<circle cx="304.00" cy="499.15" r="1.60" fill="#1d5289" stroke="#111" stroke-width="0.55"/>
<circle cx="279.70" cy="522.30" r="3.20" fill="#1d5289" stroke="#111" stroke-width="0.55"/>
<circle cx="282.00" cy="522.30" r="2.00" fill="#1d5289" stroke="#111" stroke-width="0.55"/>
<circle cx="284.00" cy="522.30" r="1.60" fill="#1d5289" stroke="#111" stroke-width="0.55"/>
<circle cx="285.70" cy="522.30" r="1.50" fill="#1d5289" stroke="#111" stroke-width="0.55"/>
<circle cx="325.90" cy="545.45" r="2.80" fill="#1d5289" stroke="#111" stroke-width="0.55"/>
<circle cx="347.90" cy="545.45" r="2.80" fill="#1d5289" stroke="#111" stroke-width="0.55"/>
<circle cx="278.80" cy="545.45" r="2.50" fill="#1d5289" stroke="#111" stroke-width="0.55"/>
<circle cx="281.50" cy="545.45" r="1.60" fill="#1d5289" stroke="#111" stroke-width="0.55"/>
<circle cx="283.80" cy="545.45" r="1.60" fill="#1d5289" stroke="#111" stroke-width="0.55"/>
<circle cx="286.10" cy="545.45" r="1.60" fill="#1d5289" stroke="#111" stroke-width="0.55"/>
<circle cx="288.40" cy="545.45" r="1.60" fill="#1d5289" stroke="#111" stroke-width="0.55"/>
<circle cx="298.50" cy="545.45" r="1.60" fill="#1d5289" stroke="#111" stroke-width="0.55"/>
<circle cx="301.00" cy="545.45" r="1.60" fill="#1d5289" stroke="#111" stroke-width="0.55"/>
<circle cx="303.50" cy="545.45" r="1.60" fill="#1d5289" stroke="#111" stroke-width="0.55"/>
<circle cx="306.00" cy="545.45" r="1.60" fill="#1d5289" stroke="#111" stroke-width="0.55"/>
<circle cx="308.50" cy="545.45" r="1.60" fill="#1d5289" stroke="#111" stroke-width="0.55"/>
<circle cx="311.00" cy="545.45" r="1.60" fill="#1d5289" stroke="#111" stroke-width="0.55"/>
<circle cx="313.50" cy="545.45" r="1.60" fill="#1d5289" stroke="#111" stroke-width="0.55"/>
<circle cx="316.00" cy="545.45" r="1.60" fill="#1d5289" stroke="#111" stroke-width="0.55"/>
<circle cx="318.50" cy="545.45" r="1.60" fill="#1d5289" stroke="#111" stroke-width="0.55"/>
<circle cx="321.00" cy="545.45" r="1.60" fill="#1d5289" stroke="#111" stroke-width="0.55"/>
<circle cx="323.50" cy="545.45" r="1.60" fill="#1d5289" stroke="#111" stroke-width="0.55"/>
<circle cx="328.50" cy="545.45" r="1.60" fill="#1d5289" stroke="#111" stroke-width="0.55"/>
<circle cx="331.00" cy="545.45" r="1.60" fill="#1d5289" stroke="#111" stroke-width="0.55"/>
<circle cx="333.50" cy="545.45" r="1.60" fill="#1d5289" stroke="#111" stroke-width="0.55"/>
<circle cx="336.00" cy="545.45" r="1.60" fill="#1d5289" stroke="#111" stroke-width="0.55"/>
<circle cx="338.50" cy="545.45" r="1.60" fill="#1d5289" stroke="#111" stroke-width="0.55"/>
<circle cx="341.00" cy="545.45" r="1.60" fill="#1d5289" stroke="#111" stroke-width="0.55"/>
<circle cx="343.50" cy="545.45" r="1.60" fill="#1d5289" stroke="#111" stroke-width="0.55"/>
<circle cx="346.00" cy="545.45" r="1.60" fill="#1d5289" stroke="#111" stroke-width="0.55"/>
<circle cx="350.50" cy="545.45" r="1.60" fill="#1d5289" stroke="#111" stroke-width="0.55"/>
<circle cx="353.00" cy="545.45" r="1.60" fill="#1d5289" stroke="#111" stroke-width="0.55"/>
<circle cx="355.50" cy="545.45" r="1.60" fill="#1d5289" stroke="#111" stroke-width="0.55"/>
<circle cx="358.00" cy="545.45" r="1.60" fill="#1d5289" stroke="#111" stroke-width="0.55"/>
<circle cx="360.50" cy="545.45" r="1.60" fill="#1d5289" stroke="#111" stroke-width="0.55"/>
<circle cx="279.00" cy="568.60" r="1.70" fill="#1d5289" stroke="#111" stroke-width="0.55"/>
<circle cx="281.30" cy="568.60" r="1.70" fill="#1d5289" stroke="#111" stroke-width="0.55"/>
<circle cx="283.60" cy="568.60" r="1.70" fill="#1d5289" stroke="#111" stroke-width="0.55"/>
<circle cx="285.90" cy="568.60" r="1.70" fill="#1d5289" stroke="#111" stroke-width="0.55"/>
<circle cx="288.20" cy="568.60" r="1.70" fill="#1d5289" stroke="#111" stroke-width="0.55"/>
<circle cx="293.00" cy="568.60" r="1.70" fill="#1d5289" stroke="#111" stroke-width="0.55"/>
<circle cx="295.50" cy="568.60" r="1.70" fill="#1d5289" stroke="#111" stroke-width="0.55"/>
<circle cx="298.00" cy="568.60" r="1.70" fill="#1d5289" stroke="#111" stroke-width="0.55"/>
<circle cx="300.50" cy="568.60" r="1.70" fill="#1d5289" stroke="#111" stroke-width="0.55"/>
<circle cx="303.00" cy="568.60" r="1.70" fill="#1d5289" stroke="#111" stroke-width="0.55"/>
<circle cx="305.50" cy="568.60" r="1.70" fill="#1d5289" stroke="#111" stroke-width="0.55"/>
<circle cx="308.00" cy="568.60" r="1.70" fill="#1d5289" stroke="#111" stroke-width="0.55"/>
<circle cx="310.50" cy="568.60" r="1.70" fill="#1d5289" stroke="#111" stroke-width="0.55"/>
<circle cx="313.00" cy="568.60" r="1.70" fill="#1d5289" stroke="#111" stroke-width="0.55"/>
<circle cx="315.50" cy="568.60" r="1.70" fill="#1d5289" stroke="#111" stroke-width="0.55"/>
<circle cx="318.00" cy="568.60" r="1.70" fill="#1d5289" stroke="#111" stroke-width="0.55"/>
<circle cx="320.50" cy="568.60" r="1.70" fill="#1d5289" stroke="#111" stroke-width="0.55"/>
<circle cx="323.00" cy="568.60" r="1.70" fill="#1d5289" stroke="#111" stroke-width="0.55"/>
<circle cx="325.50" cy="568.60" r="1.70" fill="#1d5289" stroke="#111" stroke-width="0.55"/>
<circle cx="328.00" cy="568.60" r="1.70" fill="#1d5289" stroke="#111" stroke-width="0.55"/>
<circle cx="330.50" cy="568.60" r="1.70" fill="#1d5289" stroke="#111" stroke-width="0.55"/>
<circle cx="333.00" cy="568.60" r="1.70" fill="#1d5289" stroke="#111" stroke-width="0.55"/>
<circle cx="335.50" cy="568.60" r="1.70" fill="#1d5289" stroke="#111" stroke-width="0.55"/>
<circle cx="338.00" cy="568.60" r="1.70" fill="#1d5289" stroke="#111" stroke-width="0.55"/>
<circle cx="340.50" cy="568.60" r="1.70" fill="#1d5289" stroke="#111" stroke-width="0.55"/>
<circle cx="343.00" cy="568.60" r="1.70" fill="#1d5289" stroke="#111" stroke-width="0.55"/>
<circle cx="345.50" cy="568.60" r="1.70" fill="#1d5289" stroke="#111" stroke-width="0.55"/>
<circle cx="348.00" cy="568.60" r="1.70" fill="#1d5289" stroke="#111" stroke-width="0.55"/>
<circle cx="350.50" cy="568.60" r="1.70" fill="#1d5289" stroke="#111" stroke-width="0.55"/>
<circle cx="353.00" cy="568.60" r="1.70" fill="#1d5289" stroke="#111" stroke-width="0.55"/>
<circle cx="355.50" cy="568.60" r="1.70" fill="#1d5289" stroke="#111" stroke-width="0.55"/>
<circle cx="358.00" cy="568.60" r="1.70" fill="#1d5289" stroke="#111" stroke-width="0.55"/>
<circle cx="360.50" cy="568.60" r="1.70" fill="#1d5289" stroke="#111" stroke-width="0.55"/>
<circle cx="279.70" cy="591.75" r="2.00" fill="#1d5289" stroke="#111" stroke-width="0.55"/>
<circle cx="281.50" cy="591.75" r="1.80" fill="#1d5289" stroke="#111" stroke-width="0.55"/>
</svg>
</body></html>
